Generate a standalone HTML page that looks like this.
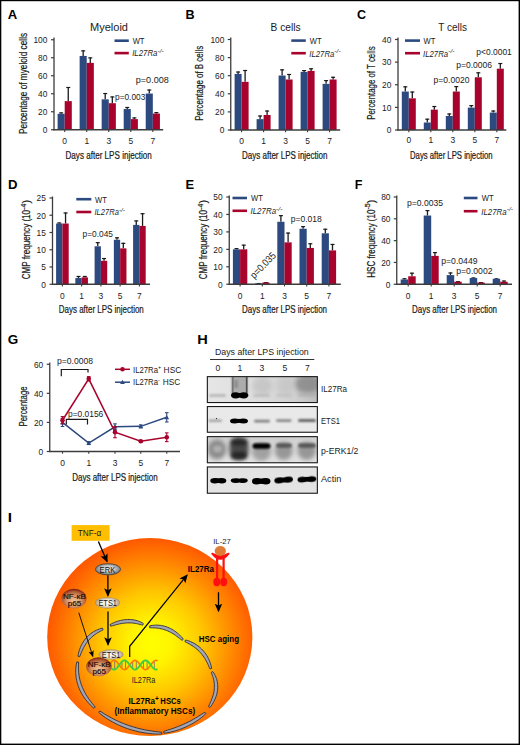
<!DOCTYPE html><html><head><meta charset="utf-8"><title>Figure</title><style>html,body{margin:0;padding:0;background:#fff;}svg{display:block;font-family:"Liberation Sans", sans-serif;}</style></head><body>
<svg width="520" height="745" viewBox="0 0 520 745">
<rect x="0" y="0" width="520" height="745" fill="#fff"/>
<text x="7.89" y="18.50" font-size="12.8" font-weight="bold" textLength="9.45" lengthAdjust="spacingAndGlyphs" fill="#000">A</text>
<text x="90.00" y="30.70" font-size="10.5" textLength="38.00" lengthAdjust="spacingAndGlyphs" fill="#1a1a1a">Myeloid</text>
<line x1="54.00" y1="37.50" x2="54.00" y2="130.35" stroke="#3c3c3c" stroke-width="1.3"/>
<line x1="51.00" y1="129.75" x2="54.00" y2="129.75" stroke="#3c3c3c" stroke-width="1.2"/>
<text x="47.40" y="133.00" font-size="9.2" text-anchor="end" textLength="4.65" lengthAdjust="spacingAndGlyphs" fill="#1a1a1a">0</text>
<line x1="51.00" y1="111.75" x2="54.00" y2="111.75" stroke="#3c3c3c" stroke-width="1.2"/>
<text x="47.40" y="115.00" font-size="9.2" text-anchor="end" textLength="9.30" lengthAdjust="spacingAndGlyphs" fill="#1a1a1a">20</text>
<line x1="51.00" y1="93.75" x2="54.00" y2="93.75" stroke="#3c3c3c" stroke-width="1.2"/>
<text x="47.40" y="97.00" font-size="9.2" text-anchor="end" textLength="9.30" lengthAdjust="spacingAndGlyphs" fill="#1a1a1a">40</text>
<line x1="51.00" y1="75.75" x2="54.00" y2="75.75" stroke="#3c3c3c" stroke-width="1.2"/>
<text x="47.40" y="79.00" font-size="9.2" text-anchor="end" textLength="9.30" lengthAdjust="spacingAndGlyphs" fill="#1a1a1a">60</text>
<line x1="51.00" y1="57.75" x2="54.00" y2="57.75" stroke="#3c3c3c" stroke-width="1.2"/>
<text x="47.40" y="61.00" font-size="9.2" text-anchor="end" textLength="9.30" lengthAdjust="spacingAndGlyphs" fill="#1a1a1a">80</text>
<line x1="51.00" y1="39.75" x2="54.00" y2="39.75" stroke="#3c3c3c" stroke-width="1.2"/>
<text x="47.40" y="43.00" font-size="9.2" text-anchor="end" textLength="13.95" lengthAdjust="spacingAndGlyphs" fill="#1a1a1a">100</text>
<line x1="61.15" y1="112.38" x2="61.15" y2="113.82" stroke="#1a1a1a" stroke-width="1.3"/>
<line x1="59.15" y1="112.88" x2="63.15" y2="112.88" stroke="#1a1a1a" stroke-width="1.2"/>
<rect x="57.60" y="113.82" width="7.10" height="15.93" fill="#2d4a80"/>
<line x1="83.18" y1="50.37" x2="83.18" y2="55.95" stroke="#1a1a1a" stroke-width="1.3"/>
<line x1="81.18" y1="50.87" x2="85.18" y2="50.87" stroke="#1a1a1a" stroke-width="1.2"/>
<rect x="79.63" y="55.95" width="7.10" height="73.80" fill="#2d4a80"/>
<line x1="105.21" y1="93.03" x2="105.21" y2="99.33" stroke="#1a1a1a" stroke-width="1.3"/>
<line x1="103.21" y1="93.53" x2="107.21" y2="93.53" stroke="#1a1a1a" stroke-width="1.2"/>
<rect x="101.66" y="99.33" width="7.10" height="30.42" fill="#2d4a80"/>
<line x1="127.24" y1="106.98" x2="127.24" y2="109.05" stroke="#1a1a1a" stroke-width="1.3"/>
<line x1="125.24" y1="107.48" x2="129.24" y2="107.48" stroke="#1a1a1a" stroke-width="1.2"/>
<rect x="123.69" y="109.05" width="7.10" height="20.70" fill="#2d4a80"/>
<line x1="149.27" y1="89.52" x2="149.27" y2="93.57" stroke="#1a1a1a" stroke-width="1.3"/>
<line x1="147.27" y1="90.02" x2="151.27" y2="90.02" stroke="#1a1a1a" stroke-width="1.2"/>
<rect x="145.72" y="93.57" width="7.10" height="36.18" fill="#2d4a80"/>
<line x1="68.25" y1="87.00" x2="68.25" y2="101.13" stroke="#1a1a1a" stroke-width="1.3"/>
<line x1="66.25" y1="87.50" x2="70.25" y2="87.50" stroke="#1a1a1a" stroke-width="1.2"/>
<rect x="64.70" y="101.13" width="7.10" height="28.62" fill="#a8032c"/>
<line x1="90.28" y1="57.39" x2="90.28" y2="62.88" stroke="#1a1a1a" stroke-width="1.3"/>
<line x1="88.28" y1="57.89" x2="92.28" y2="57.89" stroke="#1a1a1a" stroke-width="1.2"/>
<rect x="86.73" y="62.88" width="7.10" height="66.87" fill="#a8032c"/>
<line x1="112.31" y1="96.45" x2="112.31" y2="103.20" stroke="#1a1a1a" stroke-width="1.3"/>
<line x1="110.31" y1="96.95" x2="114.31" y2="96.95" stroke="#1a1a1a" stroke-width="1.2"/>
<rect x="108.76" y="103.20" width="7.10" height="26.55" fill="#a8032c"/>
<line x1="134.34" y1="117.42" x2="134.34" y2="119.13" stroke="#1a1a1a" stroke-width="1.3"/>
<line x1="132.34" y1="117.92" x2="136.34" y2="117.92" stroke="#1a1a1a" stroke-width="1.2"/>
<rect x="130.79" y="119.13" width="7.10" height="10.62" fill="#a8032c"/>
<line x1="156.37" y1="112.11" x2="156.37" y2="113.55" stroke="#1a1a1a" stroke-width="1.3"/>
<line x1="154.37" y1="112.61" x2="158.37" y2="112.61" stroke="#1a1a1a" stroke-width="1.2"/>
<rect x="152.82" y="113.55" width="7.10" height="16.20" fill="#a8032c"/>
<line x1="53.40" y1="129.75" x2="163.20" y2="129.75" stroke="#3c3c3c" stroke-width="1.3"/>
<line x1="64.70" y1="129.75" x2="64.70" y2="131.95" stroke="#3c3c3c" stroke-width="1.1"/>
<text x="64.70" y="144.05" font-size="9.2" text-anchor="middle" textLength="4.70" lengthAdjust="spacingAndGlyphs" fill="#1a1a1a">0</text>
<line x1="86.73" y1="129.75" x2="86.73" y2="131.95" stroke="#3c3c3c" stroke-width="1.1"/>
<text x="86.73" y="144.05" font-size="9.2" text-anchor="middle" textLength="4.70" lengthAdjust="spacingAndGlyphs" fill="#1a1a1a">1</text>
<line x1="108.76" y1="129.75" x2="108.76" y2="131.95" stroke="#3c3c3c" stroke-width="1.1"/>
<text x="108.76" y="144.05" font-size="9.2" text-anchor="middle" textLength="4.70" lengthAdjust="spacingAndGlyphs" fill="#1a1a1a">3</text>
<line x1="130.79" y1="129.75" x2="130.79" y2="131.95" stroke="#3c3c3c" stroke-width="1.1"/>
<text x="130.79" y="144.05" font-size="9.2" text-anchor="middle" textLength="4.70" lengthAdjust="spacingAndGlyphs" fill="#1a1a1a">5</text>
<line x1="152.82" y1="129.75" x2="152.82" y2="131.95" stroke="#3c3c3c" stroke-width="1.1"/>
<text x="152.82" y="144.05" font-size="9.2" text-anchor="middle" textLength="4.70" lengthAdjust="spacingAndGlyphs" fill="#1a1a1a">7</text>
<text x="65.50" y="158.70" font-size="10.6" textLength="86.30" lengthAdjust="spacingAndGlyphs" fill="#1a1a1a" stroke="#1a1a1a" stroke-width="0.22">Days after LPS injection</text>
<text transform="translate(26.70,133.90) rotate(-90)" font-size="11.2" textLength="101.00" lengthAdjust="spacingAndGlyphs" fill="#1a1a1a" stroke="#1a1a1a" stroke-width="0.22">Percentage of myeloid cells</text>
<line x1="114.50" y1="40.70" x2="128.80" y2="40.70" stroke="#2d4a80" stroke-width="2.6"/>
<line x1="114.50" y1="53.10" x2="128.80" y2="53.10" stroke="#a8032c" stroke-width="2.6"/>
<text x="132.70" y="44.00" font-size="9.0" textLength="11.80" lengthAdjust="spacingAndGlyphs" fill="#1a1a1a">WT</text>
<text x="132.20" y="56.40" font-size="9.0" font-style="italic" fill="#1a1a1a"><tspan textLength="25.28" lengthAdjust="spacingAndGlyphs">IL27Ra</tspan><tspan font-size="5.6" dy="-3.6" textLength="6.32" lengthAdjust="spacingAndGlyphs">-/-</tspan></text>
<text x="115.00" y="100.30" font-size="9.6" textLength="30.30" lengthAdjust="spacingAndGlyphs" fill="#1a1a1a">p=0.003</text>
<text x="135.80" y="83.10" font-size="9.6" textLength="33.00" lengthAdjust="spacingAndGlyphs" fill="#1a1a1a">p=0.008</text>
<text x="185.57" y="18.60" font-size="12.8" font-weight="bold" textLength="9.10" lengthAdjust="spacingAndGlyphs" fill="#000">B</text>
<text x="270.60" y="30.70" font-size="10.5" textLength="30.00" lengthAdjust="spacingAndGlyphs" fill="#1a1a1a">B cells</text>
<line x1="230.75" y1="37.50" x2="230.75" y2="130.60" stroke="#3c3c3c" stroke-width="1.3"/>
<line x1="227.75" y1="130.00" x2="230.75" y2="130.00" stroke="#3c3c3c" stroke-width="1.2"/>
<text x="224.40" y="133.25" font-size="9.2" text-anchor="end" textLength="4.65" lengthAdjust="spacingAndGlyphs" fill="#1a1a1a">0</text>
<line x1="227.75" y1="111.90" x2="230.75" y2="111.90" stroke="#3c3c3c" stroke-width="1.2"/>
<text x="224.40" y="115.15" font-size="9.2" text-anchor="end" textLength="9.30" lengthAdjust="spacingAndGlyphs" fill="#1a1a1a">20</text>
<line x1="227.75" y1="93.80" x2="230.75" y2="93.80" stroke="#3c3c3c" stroke-width="1.2"/>
<text x="224.40" y="97.05" font-size="9.2" text-anchor="end" textLength="9.30" lengthAdjust="spacingAndGlyphs" fill="#1a1a1a">40</text>
<line x1="227.75" y1="75.70" x2="230.75" y2="75.70" stroke="#3c3c3c" stroke-width="1.2"/>
<text x="224.40" y="78.95" font-size="9.2" text-anchor="end" textLength="9.30" lengthAdjust="spacingAndGlyphs" fill="#1a1a1a">60</text>
<line x1="227.75" y1="57.60" x2="230.75" y2="57.60" stroke="#3c3c3c" stroke-width="1.2"/>
<text x="224.40" y="60.85" font-size="9.2" text-anchor="end" textLength="9.30" lengthAdjust="spacingAndGlyphs" fill="#1a1a1a">80</text>
<line x1="227.75" y1="39.50" x2="230.75" y2="39.50" stroke="#3c3c3c" stroke-width="1.2"/>
<text x="224.40" y="42.75" font-size="9.2" text-anchor="end" textLength="13.95" lengthAdjust="spacingAndGlyphs" fill="#1a1a1a">100</text>
<line x1="238.10" y1="71.54" x2="238.10" y2="73.89" stroke="#1a1a1a" stroke-width="1.3"/>
<line x1="236.10" y1="72.04" x2="240.10" y2="72.04" stroke="#1a1a1a" stroke-width="1.2"/>
<rect x="234.60" y="73.89" width="7.00" height="56.11" fill="#2d4a80"/>
<line x1="260.10" y1="115.52" x2="260.10" y2="119.14" stroke="#1a1a1a" stroke-width="1.3"/>
<line x1="258.10" y1="116.02" x2="262.10" y2="116.02" stroke="#1a1a1a" stroke-width="1.2"/>
<rect x="256.60" y="119.14" width="7.00" height="10.86" fill="#2d4a80"/>
<line x1="282.10" y1="69.36" x2="282.10" y2="75.52" stroke="#1a1a1a" stroke-width="1.3"/>
<line x1="280.10" y1="69.86" x2="284.10" y2="69.86" stroke="#1a1a1a" stroke-width="1.2"/>
<rect x="278.60" y="75.52" width="7.00" height="54.48" fill="#2d4a80"/>
<line x1="304.10" y1="70.09" x2="304.10" y2="71.90" stroke="#1a1a1a" stroke-width="1.3"/>
<line x1="302.10" y1="70.59" x2="306.10" y2="70.59" stroke="#1a1a1a" stroke-width="1.2"/>
<rect x="300.60" y="71.90" width="7.00" height="58.10" fill="#2d4a80"/>
<line x1="326.10" y1="80.13" x2="326.10" y2="83.84" stroke="#1a1a1a" stroke-width="1.3"/>
<line x1="324.10" y1="80.63" x2="328.10" y2="80.63" stroke="#1a1a1a" stroke-width="1.2"/>
<rect x="322.60" y="83.84" width="7.00" height="46.16" fill="#2d4a80"/>
<line x1="245.10" y1="70.00" x2="245.10" y2="81.85" stroke="#1a1a1a" stroke-width="1.3"/>
<line x1="243.10" y1="70.50" x2="247.10" y2="70.50" stroke="#1a1a1a" stroke-width="1.2"/>
<rect x="241.60" y="81.85" width="7.00" height="48.15" fill="#a8032c"/>
<line x1="267.10" y1="110.54" x2="267.10" y2="114.98" stroke="#1a1a1a" stroke-width="1.3"/>
<line x1="265.10" y1="111.04" x2="269.10" y2="111.04" stroke="#1a1a1a" stroke-width="1.2"/>
<rect x="263.60" y="114.98" width="7.00" height="15.02" fill="#a8032c"/>
<line x1="289.10" y1="73.98" x2="289.10" y2="79.50" stroke="#1a1a1a" stroke-width="1.3"/>
<line x1="287.10" y1="74.48" x2="291.10" y2="74.48" stroke="#1a1a1a" stroke-width="1.2"/>
<rect x="285.60" y="79.50" width="7.00" height="50.50" fill="#a8032c"/>
<line x1="311.10" y1="68.28" x2="311.10" y2="70.90" stroke="#1a1a1a" stroke-width="1.3"/>
<line x1="309.10" y1="68.78" x2="313.10" y2="68.78" stroke="#1a1a1a" stroke-width="1.2"/>
<rect x="307.60" y="70.90" width="7.00" height="59.10" fill="#a8032c"/>
<line x1="333.10" y1="76.79" x2="333.10" y2="79.50" stroke="#1a1a1a" stroke-width="1.3"/>
<line x1="331.10" y1="77.29" x2="335.10" y2="77.29" stroke="#1a1a1a" stroke-width="1.2"/>
<rect x="329.60" y="79.50" width="7.00" height="50.50" fill="#a8032c"/>
<line x1="230.15" y1="130.00" x2="340.20" y2="130.00" stroke="#3c3c3c" stroke-width="1.3"/>
<line x1="241.60" y1="130.00" x2="241.60" y2="132.20" stroke="#3c3c3c" stroke-width="1.1"/>
<text x="241.60" y="144.05" font-size="9.2" text-anchor="middle" textLength="4.70" lengthAdjust="spacingAndGlyphs" fill="#1a1a1a">0</text>
<line x1="263.60" y1="130.00" x2="263.60" y2="132.20" stroke="#3c3c3c" stroke-width="1.1"/>
<text x="263.60" y="144.05" font-size="9.2" text-anchor="middle" textLength="4.70" lengthAdjust="spacingAndGlyphs" fill="#1a1a1a">1</text>
<line x1="285.60" y1="130.00" x2="285.60" y2="132.20" stroke="#3c3c3c" stroke-width="1.1"/>
<text x="285.60" y="144.05" font-size="9.2" text-anchor="middle" textLength="4.70" lengthAdjust="spacingAndGlyphs" fill="#1a1a1a">3</text>
<line x1="307.60" y1="130.00" x2="307.60" y2="132.20" stroke="#3c3c3c" stroke-width="1.1"/>
<text x="307.60" y="144.05" font-size="9.2" text-anchor="middle" textLength="4.70" lengthAdjust="spacingAndGlyphs" fill="#1a1a1a">5</text>
<line x1="329.60" y1="130.00" x2="329.60" y2="132.20" stroke="#3c3c3c" stroke-width="1.1"/>
<text x="329.60" y="144.05" font-size="9.2" text-anchor="middle" textLength="4.70" lengthAdjust="spacingAndGlyphs" fill="#1a1a1a">7</text>
<text x="242.00" y="158.70" font-size="10.6" textLength="85.50" lengthAdjust="spacingAndGlyphs" fill="#1a1a1a" stroke="#1a1a1a" stroke-width="0.22">Days after LPS injection</text>
<text transform="translate(203.10,120.80) rotate(-90)" font-size="11.2" textLength="75.00" lengthAdjust="spacingAndGlyphs" fill="#1a1a1a" stroke="#1a1a1a" stroke-width="0.22">Percentage of B cells</text>
<line x1="291.30" y1="40.60" x2="305.80" y2="40.60" stroke="#2d4a80" stroke-width="2.6"/>
<line x1="291.30" y1="53.20" x2="305.80" y2="53.20" stroke="#a8032c" stroke-width="2.6"/>
<text x="309.80" y="43.90" font-size="9.0" textLength="11.80" lengthAdjust="spacingAndGlyphs" fill="#1a1a1a">WT</text>
<text x="309.30" y="56.50" font-size="9.0" font-style="italic" fill="#1a1a1a"><tspan textLength="25.04" lengthAdjust="spacingAndGlyphs">IL27Ra</tspan><tspan font-size="5.6" dy="-3.6" textLength="6.26" lengthAdjust="spacingAndGlyphs">-/-</tspan></text>
<text x="357.09" y="18.60" font-size="12.8" font-weight="bold" textLength="9.05" lengthAdjust="spacingAndGlyphs" fill="#000">C</text>
<text x="438.30" y="30.70" font-size="10.5" textLength="28.70" lengthAdjust="spacingAndGlyphs" fill="#1a1a1a">T cells</text>
<line x1="398.00" y1="37.50" x2="398.00" y2="130.60" stroke="#3c3c3c" stroke-width="1.3"/>
<line x1="395.00" y1="130.00" x2="398.00" y2="130.00" stroke="#3c3c3c" stroke-width="1.2"/>
<text x="391.30" y="133.25" font-size="9.2" text-anchor="end" textLength="4.65" lengthAdjust="spacingAndGlyphs" fill="#1a1a1a">0</text>
<line x1="395.00" y1="107.38" x2="398.00" y2="107.38" stroke="#3c3c3c" stroke-width="1.2"/>
<text x="391.30" y="110.62" font-size="9.2" text-anchor="end" textLength="9.30" lengthAdjust="spacingAndGlyphs" fill="#1a1a1a">10</text>
<line x1="395.00" y1="84.75" x2="398.00" y2="84.75" stroke="#3c3c3c" stroke-width="1.2"/>
<text x="391.30" y="88.00" font-size="9.2" text-anchor="end" textLength="9.30" lengthAdjust="spacingAndGlyphs" fill="#1a1a1a">20</text>
<line x1="395.00" y1="62.12" x2="398.00" y2="62.12" stroke="#3c3c3c" stroke-width="1.2"/>
<text x="391.30" y="65.38" font-size="9.2" text-anchor="end" textLength="9.30" lengthAdjust="spacingAndGlyphs" fill="#1a1a1a">30</text>
<line x1="395.00" y1="39.50" x2="398.00" y2="39.50" stroke="#3c3c3c" stroke-width="1.2"/>
<text x="391.30" y="42.75" font-size="9.2" text-anchor="end" textLength="9.30" lengthAdjust="spacingAndGlyphs" fill="#1a1a1a">40</text>
<line x1="405.30" y1="86.33" x2="405.30" y2="91.54" stroke="#1a1a1a" stroke-width="1.3"/>
<line x1="403.30" y1="86.83" x2="407.30" y2="86.83" stroke="#1a1a1a" stroke-width="1.2"/>
<rect x="401.80" y="91.54" width="7.00" height="38.46" fill="#2d4a80"/>
<line x1="427.30" y1="118.69" x2="427.30" y2="122.53" stroke="#1a1a1a" stroke-width="1.3"/>
<line x1="425.30" y1="119.19" x2="429.30" y2="119.19" stroke="#1a1a1a" stroke-width="1.2"/>
<rect x="423.80" y="122.53" width="7.00" height="7.47" fill="#2d4a80"/>
<line x1="449.30" y1="113.48" x2="449.30" y2="115.97" stroke="#1a1a1a" stroke-width="1.3"/>
<line x1="447.30" y1="113.98" x2="451.30" y2="113.98" stroke="#1a1a1a" stroke-width="1.2"/>
<rect x="445.80" y="115.97" width="7.00" height="14.03" fill="#2d4a80"/>
<line x1="471.30" y1="105.11" x2="471.30" y2="107.60" stroke="#1a1a1a" stroke-width="1.3"/>
<line x1="469.30" y1="105.61" x2="473.30" y2="105.61" stroke="#1a1a1a" stroke-width="1.2"/>
<rect x="467.80" y="107.60" width="7.00" height="22.40" fill="#2d4a80"/>
<line x1="493.30" y1="110.54" x2="493.30" y2="112.58" stroke="#1a1a1a" stroke-width="1.3"/>
<line x1="491.30" y1="111.04" x2="495.30" y2="111.04" stroke="#1a1a1a" stroke-width="1.2"/>
<rect x="489.80" y="112.58" width="7.00" height="17.42" fill="#2d4a80"/>
<line x1="412.30" y1="91.54" x2="412.30" y2="98.32" stroke="#1a1a1a" stroke-width="1.3"/>
<line x1="410.30" y1="92.04" x2="414.30" y2="92.04" stroke="#1a1a1a" stroke-width="1.2"/>
<rect x="408.80" y="98.32" width="7.00" height="31.68" fill="#a8032c"/>
<line x1="434.30" y1="106.02" x2="434.30" y2="109.64" stroke="#1a1a1a" stroke-width="1.3"/>
<line x1="432.30" y1="106.52" x2="436.30" y2="106.52" stroke="#1a1a1a" stroke-width="1.2"/>
<rect x="430.80" y="109.64" width="7.00" height="20.36" fill="#a8032c"/>
<line x1="456.30" y1="86.11" x2="456.30" y2="91.54" stroke="#1a1a1a" stroke-width="1.3"/>
<line x1="454.30" y1="86.61" x2="458.30" y2="86.61" stroke="#1a1a1a" stroke-width="1.2"/>
<rect x="452.80" y="91.54" width="7.00" height="38.46" fill="#a8032c"/>
<line x1="478.30" y1="72.31" x2="478.30" y2="77.28" stroke="#1a1a1a" stroke-width="1.3"/>
<line x1="476.30" y1="72.81" x2="480.30" y2="72.81" stroke="#1a1a1a" stroke-width="1.2"/>
<rect x="474.80" y="77.28" width="7.00" height="52.72" fill="#a8032c"/>
<line x1="500.30" y1="63.03" x2="500.30" y2="68.69" stroke="#1a1a1a" stroke-width="1.3"/>
<line x1="498.30" y1="63.53" x2="502.30" y2="63.53" stroke="#1a1a1a" stroke-width="1.2"/>
<rect x="496.80" y="68.69" width="7.00" height="61.31" fill="#a8032c"/>
<line x1="397.40" y1="130.00" x2="506.30" y2="130.00" stroke="#3c3c3c" stroke-width="1.3"/>
<line x1="408.80" y1="130.00" x2="408.80" y2="132.20" stroke="#3c3c3c" stroke-width="1.1"/>
<text x="408.80" y="143.45" font-size="9.2" text-anchor="middle" textLength="4.70" lengthAdjust="spacingAndGlyphs" fill="#1a1a1a">0</text>
<line x1="430.80" y1="130.00" x2="430.80" y2="132.20" stroke="#3c3c3c" stroke-width="1.1"/>
<text x="430.80" y="143.45" font-size="9.2" text-anchor="middle" textLength="4.70" lengthAdjust="spacingAndGlyphs" fill="#1a1a1a">1</text>
<line x1="452.80" y1="130.00" x2="452.80" y2="132.20" stroke="#3c3c3c" stroke-width="1.1"/>
<text x="452.80" y="143.45" font-size="9.2" text-anchor="middle" textLength="4.70" lengthAdjust="spacingAndGlyphs" fill="#1a1a1a">3</text>
<line x1="474.80" y1="130.00" x2="474.80" y2="132.20" stroke="#3c3c3c" stroke-width="1.1"/>
<text x="474.80" y="143.45" font-size="9.2" text-anchor="middle" textLength="4.70" lengthAdjust="spacingAndGlyphs" fill="#1a1a1a">5</text>
<line x1="496.80" y1="130.00" x2="496.80" y2="132.20" stroke="#3c3c3c" stroke-width="1.1"/>
<text x="496.80" y="143.45" font-size="9.2" text-anchor="middle" textLength="4.70" lengthAdjust="spacingAndGlyphs" fill="#1a1a1a">7</text>
<text x="410.00" y="159.20" font-size="10.6" textLength="82.50" lengthAdjust="spacingAndGlyphs" fill="#1a1a1a" stroke="#1a1a1a" stroke-width="0.22">Days after LPS injection</text>
<text transform="translate(375.00,119.80) rotate(-90)" font-size="11.2" textLength="73.40" lengthAdjust="spacingAndGlyphs" fill="#1a1a1a" stroke="#1a1a1a" stroke-width="0.22">Percentage of T cells</text>
<line x1="405.00" y1="40.60" x2="420.00" y2="40.60" stroke="#2d4a80" stroke-width="2.6"/>
<line x1="405.00" y1="53.20" x2="420.00" y2="53.20" stroke="#a8032c" stroke-width="2.6"/>
<text x="423.50" y="43.90" font-size="9.0" textLength="11.80" lengthAdjust="spacingAndGlyphs" fill="#1a1a1a">WT</text>
<text x="423.00" y="56.50" font-size="9.0" font-style="italic" fill="#1a1a1a"><tspan textLength="25.20" lengthAdjust="spacingAndGlyphs">IL27Ra</tspan><tspan font-size="5.6" dy="-3.6" textLength="6.30" lengthAdjust="spacingAndGlyphs">-/-</tspan></text>
<text x="433.60" y="83.30" font-size="9.6" textLength="35.80" lengthAdjust="spacingAndGlyphs" fill="#1a1a1a">p=0.0020</text>
<text x="456.20" y="67.60" font-size="9.6" textLength="35.80" lengthAdjust="spacingAndGlyphs" fill="#1a1a1a">p=0.0006</text>
<text x="476.30" y="55.30" font-size="9.6" textLength="35.50" lengthAdjust="spacingAndGlyphs" fill="#1a1a1a">p&lt;0.0001</text>
<text x="8.03" y="188.90" font-size="12.8" font-weight="bold" textLength="9.51" lengthAdjust="spacingAndGlyphs" fill="#000">D</text>
<line x1="52.50" y1="196.50" x2="52.50" y2="284.85" stroke="#3c3c3c" stroke-width="1.3"/>
<line x1="49.50" y1="284.25" x2="52.50" y2="284.25" stroke="#3c3c3c" stroke-width="1.2"/>
<text x="45.80" y="287.50" font-size="9.2" text-anchor="end" textLength="4.65" lengthAdjust="spacingAndGlyphs" fill="#1a1a1a">0</text>
<line x1="49.50" y1="267.00" x2="52.50" y2="267.00" stroke="#3c3c3c" stroke-width="1.2"/>
<text x="45.80" y="270.25" font-size="9.2" text-anchor="end" textLength="4.65" lengthAdjust="spacingAndGlyphs" fill="#1a1a1a">5</text>
<line x1="49.50" y1="249.75" x2="52.50" y2="249.75" stroke="#3c3c3c" stroke-width="1.2"/>
<text x="45.80" y="253.00" font-size="9.2" text-anchor="end" textLength="9.30" lengthAdjust="spacingAndGlyphs" fill="#1a1a1a">10</text>
<line x1="49.50" y1="232.50" x2="52.50" y2="232.50" stroke="#3c3c3c" stroke-width="1.2"/>
<text x="45.80" y="235.75" font-size="9.2" text-anchor="end" textLength="9.30" lengthAdjust="spacingAndGlyphs" fill="#1a1a1a">15</text>
<line x1="49.50" y1="215.25" x2="52.50" y2="215.25" stroke="#3c3c3c" stroke-width="1.2"/>
<text x="45.80" y="218.50" font-size="9.2" text-anchor="end" textLength="9.30" lengthAdjust="spacingAndGlyphs" fill="#1a1a1a">20</text>
<line x1="49.50" y1="198.00" x2="52.50" y2="198.00" stroke="#3c3c3c" stroke-width="1.2"/>
<text x="45.80" y="201.25" font-size="9.2" text-anchor="end" textLength="9.30" lengthAdjust="spacingAndGlyphs" fill="#1a1a1a">25</text>
<line x1="59.25" y1="222.50" x2="59.25" y2="223.53" stroke="#1a1a1a" stroke-width="1.3"/>
<line x1="57.25" y1="223.00" x2="61.25" y2="223.00" stroke="#1a1a1a" stroke-width="1.2"/>
<rect x="56.10" y="223.53" width="6.30" height="60.72" fill="#2d4a80"/>
<line x1="78.50" y1="275.97" x2="78.50" y2="278.04" stroke="#1a1a1a" stroke-width="1.3"/>
<line x1="76.50" y1="276.47" x2="80.50" y2="276.47" stroke="#1a1a1a" stroke-width="1.2"/>
<rect x="75.35" y="278.04" width="6.30" height="6.21" fill="#2d4a80"/>
<line x1="97.75" y1="242.16" x2="97.75" y2="246.30" stroke="#1a1a1a" stroke-width="1.3"/>
<line x1="95.75" y1="242.66" x2="99.75" y2="242.66" stroke="#1a1a1a" stroke-width="1.2"/>
<rect x="94.60" y="246.30" width="6.30" height="37.95" fill="#2d4a80"/>
<line x1="117.00" y1="237.33" x2="117.00" y2="239.75" stroke="#1a1a1a" stroke-width="1.3"/>
<line x1="115.00" y1="237.83" x2="119.00" y2="237.83" stroke="#1a1a1a" stroke-width="1.2"/>
<rect x="113.85" y="239.75" width="6.30" height="44.50" fill="#2d4a80"/>
<line x1="136.25" y1="220.43" x2="136.25" y2="224.91" stroke="#1a1a1a" stroke-width="1.3"/>
<line x1="134.25" y1="220.93" x2="138.25" y2="220.93" stroke="#1a1a1a" stroke-width="1.2"/>
<rect x="133.10" y="224.91" width="6.30" height="59.34" fill="#2d4a80"/>
<line x1="65.55" y1="212.49" x2="65.55" y2="223.53" stroke="#1a1a1a" stroke-width="1.3"/>
<line x1="63.55" y1="212.99" x2="67.55" y2="212.99" stroke="#1a1a1a" stroke-width="1.2"/>
<rect x="62.40" y="223.53" width="6.30" height="60.72" fill="#a8032c"/>
<line x1="84.80" y1="275.97" x2="84.80" y2="277.35" stroke="#1a1a1a" stroke-width="1.3"/>
<line x1="82.80" y1="276.47" x2="86.80" y2="276.47" stroke="#1a1a1a" stroke-width="1.2"/>
<rect x="81.65" y="277.35" width="6.30" height="6.90" fill="#a8032c"/>
<line x1="104.05" y1="258.03" x2="104.05" y2="260.79" stroke="#1a1a1a" stroke-width="1.3"/>
<line x1="102.05" y1="258.53" x2="106.05" y2="258.53" stroke="#1a1a1a" stroke-width="1.2"/>
<rect x="100.90" y="260.79" width="6.30" height="23.46" fill="#a8032c"/>
<line x1="123.30" y1="242.85" x2="123.30" y2="248.37" stroke="#1a1a1a" stroke-width="1.3"/>
<line x1="121.30" y1="243.35" x2="125.30" y2="243.35" stroke="#1a1a1a" stroke-width="1.2"/>
<rect x="120.15" y="248.37" width="6.30" height="35.88" fill="#a8032c"/>
<line x1="142.55" y1="213.18" x2="142.55" y2="225.94" stroke="#1a1a1a" stroke-width="1.3"/>
<line x1="140.55" y1="213.68" x2="144.55" y2="213.68" stroke="#1a1a1a" stroke-width="1.2"/>
<rect x="139.40" y="225.94" width="6.30" height="58.31" fill="#a8032c"/>
<line x1="51.90" y1="284.25" x2="150.00" y2="284.25" stroke="#3c3c3c" stroke-width="1.3"/>
<line x1="62.40" y1="284.25" x2="62.40" y2="286.45" stroke="#3c3c3c" stroke-width="1.1"/>
<text x="62.40" y="299.45" font-size="9.2" text-anchor="middle" textLength="4.70" lengthAdjust="spacingAndGlyphs" fill="#1a1a1a">0</text>
<line x1="81.65" y1="284.25" x2="81.65" y2="286.45" stroke="#3c3c3c" stroke-width="1.1"/>
<text x="81.65" y="299.45" font-size="9.2" text-anchor="middle" textLength="4.70" lengthAdjust="spacingAndGlyphs" fill="#1a1a1a">1</text>
<line x1="100.90" y1="284.25" x2="100.90" y2="286.45" stroke="#3c3c3c" stroke-width="1.1"/>
<text x="100.90" y="299.45" font-size="9.2" text-anchor="middle" textLength="4.70" lengthAdjust="spacingAndGlyphs" fill="#1a1a1a">3</text>
<line x1="120.15" y1="284.25" x2="120.15" y2="286.45" stroke="#3c3c3c" stroke-width="1.1"/>
<text x="120.15" y="299.45" font-size="9.2" text-anchor="middle" textLength="4.70" lengthAdjust="spacingAndGlyphs" fill="#1a1a1a">5</text>
<line x1="139.40" y1="284.25" x2="139.40" y2="286.45" stroke="#3c3c3c" stroke-width="1.1"/>
<text x="139.40" y="299.45" font-size="9.2" text-anchor="middle" textLength="4.70" lengthAdjust="spacingAndGlyphs" fill="#1a1a1a">7</text>
<text x="58.80" y="313.40" font-size="10.6" textLength="85.00" lengthAdjust="spacingAndGlyphs" fill="#1a1a1a" stroke="#1a1a1a" stroke-width="0.22">Days after LPS injection</text>
<text transform="translate(30.30,279.30) rotate(-90)" font-size="11.2" fill="#1a1a1a" stroke="#1a1a1a" stroke-width="0.22"><tspan textLength="69.39" lengthAdjust="spacingAndGlyphs">CMP frequency (10</tspan><tspan font-size="6.7" dy="-4.48" textLength="6.34" lengthAdjust="spacingAndGlyphs">-4</tspan><tspan dy="4.48" textLength="3.57" lengthAdjust="spacingAndGlyphs">)</tspan></text>
<line x1="76.30" y1="199.20" x2="91.30" y2="199.20" stroke="#2d4a80" stroke-width="2.6"/>
<line x1="76.30" y1="212.00" x2="91.30" y2="212.00" stroke="#a8032c" stroke-width="2.6"/>
<text x="95.00" y="202.50" font-size="9.0" textLength="11.80" lengthAdjust="spacingAndGlyphs" fill="#1a1a1a">WT</text>
<text x="94.50" y="215.30" font-size="9.0" font-style="italic" fill="#1a1a1a"><tspan textLength="24.40" lengthAdjust="spacingAndGlyphs">IL27Ra</tspan><tspan font-size="5.6" dy="-3.6" textLength="6.10" lengthAdjust="spacingAndGlyphs">-/-</tspan></text>
<text x="82.50" y="236.90" font-size="9.6" textLength="30.50" lengthAdjust="spacingAndGlyphs" fill="#1a1a1a">p=0.045</text>
<text x="185.54" y="189.00" font-size="12.8" font-weight="bold" textLength="8.66" lengthAdjust="spacingAndGlyphs" fill="#000">E</text>
<line x1="229.25" y1="195.50" x2="229.25" y2="284.85" stroke="#3c3c3c" stroke-width="1.3"/>
<line x1="226.25" y1="284.25" x2="229.25" y2="284.25" stroke="#3c3c3c" stroke-width="1.2"/>
<text x="222.60" y="287.50" font-size="9.2" text-anchor="end" textLength="4.65" lengthAdjust="spacingAndGlyphs" fill="#1a1a1a">0</text>
<line x1="226.25" y1="266.80" x2="229.25" y2="266.80" stroke="#3c3c3c" stroke-width="1.2"/>
<text x="222.60" y="270.05" font-size="9.2" text-anchor="end" textLength="9.30" lengthAdjust="spacingAndGlyphs" fill="#1a1a1a">10</text>
<line x1="226.25" y1="249.35" x2="229.25" y2="249.35" stroke="#3c3c3c" stroke-width="1.2"/>
<text x="222.60" y="252.60" font-size="9.2" text-anchor="end" textLength="9.30" lengthAdjust="spacingAndGlyphs" fill="#1a1a1a">20</text>
<line x1="226.25" y1="231.90" x2="229.25" y2="231.90" stroke="#3c3c3c" stroke-width="1.2"/>
<text x="222.60" y="235.15" font-size="9.2" text-anchor="end" textLength="9.30" lengthAdjust="spacingAndGlyphs" fill="#1a1a1a">30</text>
<line x1="226.25" y1="214.45" x2="229.25" y2="214.45" stroke="#3c3c3c" stroke-width="1.2"/>
<text x="222.60" y="217.70" font-size="9.2" text-anchor="end" textLength="9.30" lengthAdjust="spacingAndGlyphs" fill="#1a1a1a">40</text>
<line x1="226.25" y1="197.00" x2="229.25" y2="197.00" stroke="#3c3c3c" stroke-width="1.2"/>
<text x="222.60" y="200.25" font-size="9.2" text-anchor="end" textLength="9.30" lengthAdjust="spacingAndGlyphs" fill="#1a1a1a">50</text>
<line x1="236.50" y1="248.13" x2="236.50" y2="249.35" stroke="#1a1a1a" stroke-width="1.3"/>
<line x1="234.50" y1="248.63" x2="238.50" y2="248.63" stroke="#1a1a1a" stroke-width="1.2"/>
<rect x="232.90" y="249.35" width="7.20" height="34.90" fill="#2d4a80"/>
<line x1="258.70" y1="283.03" x2="258.70" y2="283.38" stroke="#1a1a1a" stroke-width="1.3"/>
<line x1="256.70" y1="283.53" x2="260.70" y2="283.53" stroke="#1a1a1a" stroke-width="1.2"/>
<rect x="255.10" y="283.38" width="7.20" height="0.87" fill="#2d4a80"/>
<line x1="280.90" y1="215.15" x2="280.90" y2="221.78" stroke="#1a1a1a" stroke-width="1.3"/>
<line x1="278.90" y1="215.65" x2="282.90" y2="215.65" stroke="#1a1a1a" stroke-width="1.2"/>
<rect x="277.30" y="221.78" width="7.20" height="62.47" fill="#2d4a80"/>
<line x1="303.10" y1="226.14" x2="303.10" y2="228.76" stroke="#1a1a1a" stroke-width="1.3"/>
<line x1="301.10" y1="226.64" x2="305.10" y2="226.64" stroke="#1a1a1a" stroke-width="1.2"/>
<rect x="299.50" y="228.76" width="7.20" height="55.49" fill="#2d4a80"/>
<line x1="325.30" y1="228.76" x2="325.30" y2="233.30" stroke="#1a1a1a" stroke-width="1.3"/>
<line x1="323.30" y1="229.26" x2="327.30" y2="229.26" stroke="#1a1a1a" stroke-width="1.2"/>
<rect x="321.70" y="233.30" width="7.20" height="50.95" fill="#2d4a80"/>
<line x1="243.70" y1="244.64" x2="243.70" y2="249.35" stroke="#1a1a1a" stroke-width="1.3"/>
<line x1="241.70" y1="245.14" x2="245.70" y2="245.14" stroke="#1a1a1a" stroke-width="1.2"/>
<rect x="240.10" y="249.35" width="7.20" height="34.90" fill="#a8032c"/>
<line x1="265.90" y1="282.16" x2="265.90" y2="282.50" stroke="#1a1a1a" stroke-width="1.3"/>
<line x1="263.90" y1="282.66" x2="267.90" y2="282.66" stroke="#1a1a1a" stroke-width="1.2"/>
<rect x="262.30" y="282.50" width="7.20" height="1.75" fill="#a8032c"/>
<line x1="288.10" y1="232.60" x2="288.10" y2="242.37" stroke="#1a1a1a" stroke-width="1.3"/>
<line x1="286.10" y1="233.10" x2="290.10" y2="233.10" stroke="#1a1a1a" stroke-width="1.2"/>
<rect x="284.50" y="242.37" width="7.20" height="41.88" fill="#a8032c"/>
<line x1="310.30" y1="243.24" x2="310.30" y2="247.95" stroke="#1a1a1a" stroke-width="1.3"/>
<line x1="308.30" y1="243.74" x2="312.30" y2="243.74" stroke="#1a1a1a" stroke-width="1.2"/>
<rect x="306.70" y="247.95" width="7.20" height="36.30" fill="#a8032c"/>
<line x1="332.50" y1="243.94" x2="332.50" y2="250.40" stroke="#1a1a1a" stroke-width="1.3"/>
<line x1="330.50" y1="244.44" x2="334.50" y2="244.44" stroke="#1a1a1a" stroke-width="1.2"/>
<rect x="328.90" y="250.40" width="7.20" height="33.85" fill="#a8032c"/>
<line x1="228.65" y1="284.25" x2="340.80" y2="284.25" stroke="#3c3c3c" stroke-width="1.3"/>
<line x1="240.10" y1="284.25" x2="240.10" y2="286.45" stroke="#3c3c3c" stroke-width="1.1"/>
<text x="240.10" y="299.45" font-size="9.2" text-anchor="middle" textLength="4.70" lengthAdjust="spacingAndGlyphs" fill="#1a1a1a">0</text>
<line x1="262.30" y1="284.25" x2="262.30" y2="286.45" stroke="#3c3c3c" stroke-width="1.1"/>
<text x="262.30" y="299.45" font-size="9.2" text-anchor="middle" textLength="4.70" lengthAdjust="spacingAndGlyphs" fill="#1a1a1a">1</text>
<line x1="284.50" y1="284.25" x2="284.50" y2="286.45" stroke="#3c3c3c" stroke-width="1.1"/>
<text x="284.50" y="299.45" font-size="9.2" text-anchor="middle" textLength="4.70" lengthAdjust="spacingAndGlyphs" fill="#1a1a1a">3</text>
<line x1="306.70" y1="284.25" x2="306.70" y2="286.45" stroke="#3c3c3c" stroke-width="1.1"/>
<text x="306.70" y="299.45" font-size="9.2" text-anchor="middle" textLength="4.70" lengthAdjust="spacingAndGlyphs" fill="#1a1a1a">5</text>
<line x1="328.90" y1="284.25" x2="328.90" y2="286.45" stroke="#3c3c3c" stroke-width="1.1"/>
<text x="328.90" y="299.45" font-size="9.2" text-anchor="middle" textLength="4.70" lengthAdjust="spacingAndGlyphs" fill="#1a1a1a">7</text>
<text x="242.00" y="313.40" font-size="10.6" textLength="85.00" lengthAdjust="spacingAndGlyphs" fill="#1a1a1a" stroke="#1a1a1a" stroke-width="0.22">Days after LPS injection</text>
<text transform="translate(207.10,279.30) rotate(-90)" font-size="11.2" fill="#1a1a1a" stroke="#1a1a1a" stroke-width="0.22"><tspan textLength="69.39" lengthAdjust="spacingAndGlyphs">CMP frequency (10</tspan><tspan font-size="6.7" dy="-4.48" textLength="6.34" lengthAdjust="spacingAndGlyphs">-4</tspan><tspan dy="4.48" textLength="3.57" lengthAdjust="spacingAndGlyphs">)</tspan></text>
<line x1="232.50" y1="198.00" x2="247.00" y2="198.00" stroke="#2d4a80" stroke-width="2.6"/>
<line x1="232.50" y1="210.80" x2="247.00" y2="210.80" stroke="#a8032c" stroke-width="2.6"/>
<text x="251.00" y="201.30" font-size="9.0" textLength="11.80" lengthAdjust="spacingAndGlyphs" fill="#1a1a1a">WT</text>
<text x="250.50" y="214.10" font-size="9.0" font-style="italic" fill="#1a1a1a"><tspan textLength="25.60" lengthAdjust="spacingAndGlyphs">IL27Ra</tspan><tspan font-size="5.6" dy="-3.6" textLength="6.40" lengthAdjust="spacingAndGlyphs">-/-</tspan></text>
<text x="290.80" y="222.30" font-size="9.6" textLength="31.00" lengthAdjust="spacingAndGlyphs" fill="#1a1a1a">p=0.018</text>
<text transform="translate(254.3,279.3) rotate(-46)" font-size="10.2" textLength="32.0" lengthAdjust="spacingAndGlyphs" fill="#1a1a1a">p=0.035</text>
<text x="354.77" y="189.00" font-size="12.8" font-weight="bold" textLength="7.68" lengthAdjust="spacingAndGlyphs" fill="#000">F</text>
<line x1="396.75" y1="195.50" x2="396.75" y2="284.85" stroke="#3c3c3c" stroke-width="1.3"/>
<line x1="393.75" y1="284.25" x2="396.75" y2="284.25" stroke="#3c3c3c" stroke-width="1.2"/>
<text x="390.50" y="287.50" font-size="9.2" text-anchor="end" textLength="4.65" lengthAdjust="spacingAndGlyphs" fill="#1a1a1a">0</text>
<line x1="393.75" y1="262.44" x2="396.75" y2="262.44" stroke="#3c3c3c" stroke-width="1.2"/>
<text x="390.50" y="265.69" font-size="9.2" text-anchor="end" textLength="9.30" lengthAdjust="spacingAndGlyphs" fill="#1a1a1a">20</text>
<line x1="393.75" y1="240.63" x2="396.75" y2="240.63" stroke="#3c3c3c" stroke-width="1.2"/>
<text x="390.50" y="243.88" font-size="9.2" text-anchor="end" textLength="9.30" lengthAdjust="spacingAndGlyphs" fill="#1a1a1a">40</text>
<line x1="393.75" y1="218.81" x2="396.75" y2="218.81" stroke="#3c3c3c" stroke-width="1.2"/>
<text x="390.50" y="222.06" font-size="9.2" text-anchor="end" textLength="9.30" lengthAdjust="spacingAndGlyphs" fill="#1a1a1a">60</text>
<line x1="393.75" y1="197.00" x2="396.75" y2="197.00" stroke="#3c3c3c" stroke-width="1.2"/>
<text x="390.50" y="200.25" font-size="9.2" text-anchor="end" textLength="9.30" lengthAdjust="spacingAndGlyphs" fill="#1a1a1a">80</text>
<line x1="404.45" y1="278.25" x2="404.45" y2="279.45" stroke="#1a1a1a" stroke-width="1.3"/>
<line x1="402.45" y1="278.75" x2="406.45" y2="278.75" stroke="#1a1a1a" stroke-width="1.2"/>
<rect x="400.70" y="279.45" width="7.50" height="4.80" fill="#2d4a80"/>
<line x1="427.45" y1="210.09" x2="427.45" y2="215.54" stroke="#1a1a1a" stroke-width="1.3"/>
<line x1="425.45" y1="210.59" x2="429.45" y2="210.59" stroke="#1a1a1a" stroke-width="1.2"/>
<rect x="423.70" y="215.54" width="7.50" height="68.71" fill="#2d4a80"/>
<line x1="450.45" y1="272.47" x2="450.45" y2="275.09" stroke="#1a1a1a" stroke-width="1.3"/>
<line x1="448.45" y1="272.97" x2="452.45" y2="272.97" stroke="#1a1a1a" stroke-width="1.2"/>
<rect x="446.70" y="275.09" width="7.50" height="9.16" fill="#2d4a80"/>
<line x1="473.45" y1="277.49" x2="473.45" y2="278.03" stroke="#1a1a1a" stroke-width="1.3"/>
<line x1="471.45" y1="277.99" x2="475.45" y2="277.99" stroke="#1a1a1a" stroke-width="1.2"/>
<rect x="469.70" y="278.03" width="7.50" height="6.22" fill="#2d4a80"/>
<line x1="496.45" y1="278.36" x2="496.45" y2="278.80" stroke="#1a1a1a" stroke-width="1.3"/>
<line x1="494.45" y1="278.86" x2="498.45" y2="278.86" stroke="#1a1a1a" stroke-width="1.2"/>
<rect x="492.70" y="278.80" width="7.50" height="5.45" fill="#2d4a80"/>
<line x1="411.95" y1="272.69" x2="411.95" y2="276.29" stroke="#1a1a1a" stroke-width="1.3"/>
<line x1="409.95" y1="273.19" x2="413.95" y2="273.19" stroke="#1a1a1a" stroke-width="1.2"/>
<rect x="408.20" y="276.29" width="7.50" height="7.96" fill="#a8032c"/>
<line x1="434.95" y1="252.08" x2="434.95" y2="255.89" stroke="#1a1a1a" stroke-width="1.3"/>
<line x1="432.95" y1="252.58" x2="436.95" y2="252.58" stroke="#1a1a1a" stroke-width="1.2"/>
<rect x="431.20" y="255.89" width="7.50" height="28.36" fill="#a8032c"/>
<line x1="457.95" y1="281.20" x2="457.95" y2="281.74" stroke="#1a1a1a" stroke-width="1.3"/>
<line x1="455.95" y1="281.70" x2="459.95" y2="281.70" stroke="#1a1a1a" stroke-width="1.2"/>
<rect x="454.20" y="281.74" width="7.50" height="2.51" fill="#a8032c"/>
<line x1="480.95" y1="282.07" x2="480.95" y2="282.51" stroke="#1a1a1a" stroke-width="1.3"/>
<line x1="478.95" y1="282.57" x2="482.95" y2="282.57" stroke="#1a1a1a" stroke-width="1.2"/>
<rect x="477.20" y="282.51" width="7.50" height="1.74" fill="#a8032c"/>
<line x1="503.95" y1="280.54" x2="503.95" y2="281.74" stroke="#1a1a1a" stroke-width="1.3"/>
<line x1="501.95" y1="281.04" x2="505.95" y2="281.04" stroke="#1a1a1a" stroke-width="1.2"/>
<rect x="500.20" y="281.74" width="7.50" height="2.51" fill="#a8032c"/>
<line x1="396.15" y1="284.25" x2="512.00" y2="284.25" stroke="#3c3c3c" stroke-width="1.3"/>
<line x1="408.20" y1="284.25" x2="408.20" y2="286.45" stroke="#3c3c3c" stroke-width="1.1"/>
<text x="408.20" y="299.45" font-size="9.2" text-anchor="middle" textLength="4.70" lengthAdjust="spacingAndGlyphs" fill="#1a1a1a">0</text>
<line x1="431.20" y1="284.25" x2="431.20" y2="286.45" stroke="#3c3c3c" stroke-width="1.1"/>
<text x="431.20" y="299.45" font-size="9.2" text-anchor="middle" textLength="4.70" lengthAdjust="spacingAndGlyphs" fill="#1a1a1a">1</text>
<line x1="454.20" y1="284.25" x2="454.20" y2="286.45" stroke="#3c3c3c" stroke-width="1.1"/>
<text x="454.20" y="299.45" font-size="9.2" text-anchor="middle" textLength="4.70" lengthAdjust="spacingAndGlyphs" fill="#1a1a1a">3</text>
<line x1="477.20" y1="284.25" x2="477.20" y2="286.45" stroke="#3c3c3c" stroke-width="1.1"/>
<text x="477.20" y="299.45" font-size="9.2" text-anchor="middle" textLength="4.70" lengthAdjust="spacingAndGlyphs" fill="#1a1a1a">5</text>
<line x1="500.20" y1="284.25" x2="500.20" y2="286.45" stroke="#3c3c3c" stroke-width="1.1"/>
<text x="500.20" y="299.45" font-size="9.2" text-anchor="middle" textLength="4.70" lengthAdjust="spacingAndGlyphs" fill="#1a1a1a">7</text>
<text x="412.00" y="313.40" font-size="10.6" textLength="85.00" lengthAdjust="spacingAndGlyphs" fill="#1a1a1a" stroke="#1a1a1a" stroke-width="0.22">Days after LPS injection</text>
<text transform="translate(374.70,277.70) rotate(-90)" font-size="11.2" fill="#1a1a1a" stroke="#1a1a1a" stroke-width="0.22"><tspan textLength="68.16" lengthAdjust="spacingAndGlyphs">HSC frequency (10</tspan><tspan font-size="6.7" dy="-4.48" textLength="6.23" lengthAdjust="spacingAndGlyphs">-5</tspan><tspan dy="4.48" textLength="3.51" lengthAdjust="spacingAndGlyphs">)</tspan></text>
<line x1="463.80" y1="198.00" x2="477.50" y2="198.00" stroke="#2d4a80" stroke-width="2.6"/>
<line x1="463.80" y1="211.20" x2="477.50" y2="211.20" stroke="#a8032c" stroke-width="2.6"/>
<text x="481.80" y="201.30" font-size="9.0" textLength="11.80" lengthAdjust="spacingAndGlyphs" fill="#1a1a1a">WT</text>
<text x="481.30" y="214.50" font-size="9.0" font-style="italic" fill="#1a1a1a"><tspan textLength="25.36" lengthAdjust="spacingAndGlyphs">IL27Ra</tspan><tspan font-size="5.6" dy="-3.6" textLength="6.34" lengthAdjust="spacingAndGlyphs">-/-</tspan></text>
<text x="407.00" y="206.10" font-size="9.6" textLength="36.00" lengthAdjust="spacingAndGlyphs" fill="#1a1a1a">p=0.0035</text>
<text x="441.30" y="263.60" font-size="9.6" textLength="36.20" lengthAdjust="spacingAndGlyphs" fill="#1a1a1a">p=0.0449</text>
<text x="456.30" y="274.30" font-size="9.6" textLength="36.20" lengthAdjust="spacingAndGlyphs" fill="#1a1a1a">p=0.0002</text>
<text x="7.65" y="343.60" font-size="12.8" font-weight="bold" textLength="10.49" lengthAdjust="spacingAndGlyphs" fill="#000">G</text>
<line x1="49.75" y1="362.50" x2="49.75" y2="452.10" stroke="#3c3c3c" stroke-width="1.3"/>
<line x1="46.75" y1="451.50" x2="49.75" y2="451.50" stroke="#3c3c3c" stroke-width="1.2"/>
<text x="43.20" y="454.75" font-size="9.2" text-anchor="end" textLength="4.65" lengthAdjust="spacingAndGlyphs" fill="#1a1a1a">0</text>
<line x1="46.75" y1="422.42" x2="49.75" y2="422.42" stroke="#3c3c3c" stroke-width="1.2"/>
<text x="43.20" y="425.67" font-size="9.2" text-anchor="end" textLength="9.30" lengthAdjust="spacingAndGlyphs" fill="#1a1a1a">20</text>
<line x1="46.75" y1="393.34" x2="49.75" y2="393.34" stroke="#3c3c3c" stroke-width="1.2"/>
<text x="43.20" y="396.59" font-size="9.2" text-anchor="end" textLength="9.30" lengthAdjust="spacingAndGlyphs" fill="#1a1a1a">40</text>
<line x1="46.75" y1="364.26" x2="49.75" y2="364.26" stroke="#3c3c3c" stroke-width="1.2"/>
<text x="43.20" y="367.51" font-size="9.2" text-anchor="end" textLength="9.30" lengthAdjust="spacingAndGlyphs" fill="#1a1a1a">60</text>
<line x1="49.15" y1="451.50" x2="180.00" y2="451.50" stroke="#3c3c3c" stroke-width="1.3"/>
<line x1="62.50" y1="451.50" x2="62.50" y2="453.70" stroke="#3c3c3c" stroke-width="1.1"/>
<text x="62.50" y="465.65" font-size="9.2" text-anchor="middle" textLength="4.70" lengthAdjust="spacingAndGlyphs" fill="#1a1a1a">0</text>
<line x1="88.75" y1="451.50" x2="88.75" y2="453.70" stroke="#3c3c3c" stroke-width="1.1"/>
<text x="88.75" y="465.65" font-size="9.2" text-anchor="middle" textLength="4.70" lengthAdjust="spacingAndGlyphs" fill="#1a1a1a">1</text>
<line x1="115.00" y1="451.50" x2="115.00" y2="453.70" stroke="#3c3c3c" stroke-width="1.1"/>
<text x="115.00" y="465.65" font-size="9.2" text-anchor="middle" textLength="4.70" lengthAdjust="spacingAndGlyphs" fill="#1a1a1a">3</text>
<line x1="140.75" y1="451.50" x2="140.75" y2="453.70" stroke="#3c3c3c" stroke-width="1.1"/>
<text x="140.75" y="465.65" font-size="9.2" text-anchor="middle" textLength="4.70" lengthAdjust="spacingAndGlyphs" fill="#1a1a1a">5</text>
<line x1="166.75" y1="451.50" x2="166.75" y2="453.70" stroke="#3c3c3c" stroke-width="1.1"/>
<text x="166.75" y="465.65" font-size="9.2" text-anchor="middle" textLength="4.70" lengthAdjust="spacingAndGlyphs" fill="#1a1a1a">7</text>
<text x="72.20" y="481.10" font-size="10.6" textLength="85.50" lengthAdjust="spacingAndGlyphs" fill="#1a1a1a" stroke="#1a1a1a" stroke-width="0.22">Days after LPS injection</text>
<text transform="translate(26.90,426.60) rotate(-90)" font-size="11.2" textLength="40.30" lengthAdjust="spacingAndGlyphs" fill="#1a1a1a" stroke="#1a1a1a" stroke-width="0.22">Percentage</text>
<polyline points="62.50,422.42 88.75,443.07 115.00,426.78 140.75,426.35 166.75,417.33" fill="none" stroke="#2d4a80" stroke-width="1.5"/>
<polyline points="62.50,420.24 88.75,378.80 115.00,432.16 140.75,441.32 166.75,437.25" fill="none" stroke="#a8032c" stroke-width="1.5"/>
<line x1="62.50" y1="418.35" x2="62.50" y2="426.49" stroke="#2d4a80" stroke-width="1.1"/>
<line x1="60.70" y1="418.35" x2="64.30" y2="418.35" stroke="#2d4a80" stroke-width="1.1"/>
<line x1="60.70" y1="426.49" x2="64.30" y2="426.49" stroke="#2d4a80" stroke-width="1.1"/>
<path d="M60.10,424.22 L64.90,424.22 L62.50,420.02 z" fill="#2d4a80"/>
<line x1="88.75" y1="441.61" x2="88.75" y2="444.52" stroke="#2d4a80" stroke-width="1.1"/>
<line x1="86.95" y1="441.61" x2="90.55" y2="441.61" stroke="#2d4a80" stroke-width="1.1"/>
<line x1="86.95" y1="444.52" x2="90.55" y2="444.52" stroke="#2d4a80" stroke-width="1.1"/>
<path d="M86.35,444.87 L91.15,444.87 L88.75,440.67 z" fill="#2d4a80"/>
<line x1="115.00" y1="423.87" x2="115.00" y2="429.69" stroke="#2d4a80" stroke-width="1.1"/>
<line x1="113.20" y1="423.87" x2="116.80" y2="423.87" stroke="#2d4a80" stroke-width="1.1"/>
<line x1="113.20" y1="429.69" x2="116.80" y2="429.69" stroke="#2d4a80" stroke-width="1.1"/>
<path d="M112.60,428.58 L117.40,428.58 L115.00,424.38 z" fill="#2d4a80"/>
<line x1="140.75" y1="424.89" x2="140.75" y2="427.80" stroke="#2d4a80" stroke-width="1.1"/>
<line x1="138.95" y1="424.89" x2="142.55" y2="424.89" stroke="#2d4a80" stroke-width="1.1"/>
<line x1="138.95" y1="427.80" x2="142.55" y2="427.80" stroke="#2d4a80" stroke-width="1.1"/>
<path d="M138.35,428.15 L143.15,428.15 L140.75,423.95 z" fill="#2d4a80"/>
<line x1="166.75" y1="412.68" x2="166.75" y2="421.98" stroke="#2d4a80" stroke-width="1.1"/>
<line x1="164.95" y1="412.68" x2="168.55" y2="412.68" stroke="#2d4a80" stroke-width="1.1"/>
<line x1="164.95" y1="421.98" x2="168.55" y2="421.98" stroke="#2d4a80" stroke-width="1.1"/>
<path d="M164.35,419.13 L169.15,419.13 L166.75,414.93 z" fill="#2d4a80"/>
<line x1="62.50" y1="416.60" x2="62.50" y2="423.87" stroke="#a8032c" stroke-width="1.1"/>
<line x1="60.70" y1="416.60" x2="64.30" y2="416.60" stroke="#a8032c" stroke-width="1.1"/>
<line x1="60.70" y1="423.87" x2="64.30" y2="423.87" stroke="#a8032c" stroke-width="1.1"/>
<circle cx="62.50" cy="420.24" r="2.3" fill="#a8032c"/>
<line x1="88.75" y1="376.62" x2="88.75" y2="380.98" stroke="#a8032c" stroke-width="1.1"/>
<line x1="86.95" y1="376.62" x2="90.55" y2="376.62" stroke="#a8032c" stroke-width="1.1"/>
<line x1="86.95" y1="380.98" x2="90.55" y2="380.98" stroke="#a8032c" stroke-width="1.1"/>
<circle cx="88.75" cy="378.80" r="2.3" fill="#a8032c"/>
<line x1="115.00" y1="426.64" x2="115.00" y2="437.69" stroke="#a8032c" stroke-width="1.1"/>
<line x1="113.20" y1="426.64" x2="116.80" y2="426.64" stroke="#a8032c" stroke-width="1.1"/>
<line x1="113.20" y1="437.69" x2="116.80" y2="437.69" stroke="#a8032c" stroke-width="1.1"/>
<circle cx="115.00" cy="432.16" r="2.3" fill="#a8032c"/>
<line x1="140.75" y1="440.45" x2="140.75" y2="442.19" stroke="#a8032c" stroke-width="1.1"/>
<line x1="138.95" y1="440.45" x2="142.55" y2="440.45" stroke="#a8032c" stroke-width="1.1"/>
<line x1="138.95" y1="442.19" x2="142.55" y2="442.19" stroke="#a8032c" stroke-width="1.1"/>
<circle cx="140.75" cy="441.32" r="2.3" fill="#a8032c"/>
<line x1="166.75" y1="432.89" x2="166.75" y2="441.61" stroke="#a8032c" stroke-width="1.1"/>
<line x1="164.95" y1="432.89" x2="168.55" y2="432.89" stroke="#a8032c" stroke-width="1.1"/>
<line x1="164.95" y1="441.61" x2="168.55" y2="441.61" stroke="#a8032c" stroke-width="1.1"/>
<circle cx="166.75" cy="437.25" r="2.3" fill="#a8032c"/>
<path d="M61.3,376.3 L61.3,369.5 L88.0,369.5 L88.0,372.5" fill="none" stroke="#1a1a1a" stroke-width="1.2"/>
<text x="57.00" y="364.30" font-size="9.6" textLength="36.00" lengthAdjust="spacingAndGlyphs" fill="#1a1a1a">p=0.0008</text>
<path d="M66.3,424.5 L66.3,419.3 L87.5,419.3 L87.5,424.5" fill="none" stroke="#1a1a1a" stroke-width="1.2"/>
<text x="68.00" y="416.60" font-size="9.6" textLength="35.30" lengthAdjust="spacingAndGlyphs" fill="#1a1a1a">p=0.0156</text>
<line x1="115.00" y1="369.30" x2="130.00" y2="369.30" stroke="#a8032c" stroke-width="1.5"/>
<circle cx="122.5" cy="369.3" r="2.3" fill="#a8032c"/>
<line x1="115.00" y1="382.20" x2="130.00" y2="382.20" stroke="#2d4a80" stroke-width="1.5"/>
<path d="M120.1,384.0 L124.9,384.0 L122.5,379.8 z" fill="#2d4a80"/>
<text x="133" y="372.5" font-size="8.6" fill="#1a1a1a"><tspan textLength="25" lengthAdjust="spacingAndGlyphs">IL27Ra</tspan><tspan font-size="5.5" dy="-3.4">+</tspan><tspan dy="3.4" dx="2.4" textLength="17.6" lengthAdjust="spacingAndGlyphs">HSC</tspan></text>
<text x="133" y="385.4" font-size="8.6" fill="#1a1a1a"><tspan textLength="25" lengthAdjust="spacingAndGlyphs">IL27Ra</tspan><tspan font-size="5.5" dy="-3.4">-</tspan><tspan dy="3.4" dx="2.8" textLength="17.6" lengthAdjust="spacingAndGlyphs">HSC</tspan></text>
<text x="197.24" y="343.60" font-size="12.8" font-weight="bold" textLength="10.54" lengthAdjust="spacingAndGlyphs" fill="#000">H</text>
<text x="215.00" y="354.60" font-size="9.0" textLength="93.70" lengthAdjust="spacingAndGlyphs" fill="#1a1a1a">Days after LPS injection</text>
<line x1="210.00" y1="359.50" x2="314.30" y2="359.50" stroke="#333" stroke-width="1.1"/>
<text x="218.00" y="370.80" font-size="8.6" text-anchor="middle" fill="#1a1a1a">0</text>
<text x="240.00" y="370.80" font-size="8.6" text-anchor="middle" fill="#1a1a1a">1</text>
<text x="261.80" y="370.80" font-size="8.6" text-anchor="middle" fill="#1a1a1a">3</text>
<text x="285.00" y="370.80" font-size="8.6" text-anchor="middle" fill="#1a1a1a">5</text>
<text x="307.50" y="370.80" font-size="8.6" text-anchor="middle" fill="#1a1a1a">7</text>
<defs>
<filter id="bl2" x="-50%" y="-100%" width="200%" height="300%"><feGaussianBlur stdDeviation="0.2"/></filter>
<filter id="bl3" x="-50%" y="-100%" width="200%" height="300%"><feGaussianBlur stdDeviation="0.3"/></filter>
<filter id="bl4" x="-50%" y="-100%" width="200%" height="300%"><feGaussianBlur stdDeviation="0.4"/></filter>
<filter id="bl5" x="-50%" y="-100%" width="200%" height="300%"><feGaussianBlur stdDeviation="0.5"/></filter>
<filter id="bl6" x="-50%" y="-100%" width="200%" height="300%"><feGaussianBlur stdDeviation="0.6"/></filter>
<filter id="bl7" x="-50%" y="-100%" width="200%" height="300%"><feGaussianBlur stdDeviation="0.7"/></filter>
<filter id="bl8" x="-50%" y="-100%" width="200%" height="300%"><feGaussianBlur stdDeviation="0.8"/></filter>
<filter id="bl9" x="-50%" y="-100%" width="200%" height="300%"><feGaussianBlur stdDeviation="0.9"/></filter>
<filter id="bl10" x="-50%" y="-100%" width="200%" height="300%"><feGaussianBlur stdDeviation="1.0"/></filter>
<filter id="bl11" x="-50%" y="-100%" width="200%" height="300%"><feGaussianBlur stdDeviation="1.1"/></filter>
<filter id="bl12" x="-50%" y="-100%" width="200%" height="300%"><feGaussianBlur stdDeviation="1.2"/></filter>
<filter id="bl13" x="-50%" y="-100%" width="200%" height="300%"><feGaussianBlur stdDeviation="1.3"/></filter>
<filter id="bl14" x="-50%" y="-100%" width="200%" height="300%"><feGaussianBlur stdDeviation="1.4"/></filter>
<filter id="bl15" x="-50%" y="-100%" width="200%" height="300%"><feGaussianBlur stdDeviation="1.5"/></filter>
<filter id="bl16" x="-50%" y="-100%" width="200%" height="300%"><feGaussianBlur stdDeviation="1.6"/></filter>
<filter id="bl17" x="-50%" y="-100%" width="200%" height="300%"><feGaussianBlur stdDeviation="1.7"/></filter>
<filter id="bl18" x="-50%" y="-100%" width="200%" height="300%"><feGaussianBlur stdDeviation="1.8"/></filter>
<filter id="bl19" x="-50%" y="-100%" width="200%" height="300%"><feGaussianBlur stdDeviation="1.9"/></filter>
<filter id="bl20" x="-50%" y="-100%" width="200%" height="300%"><feGaussianBlur stdDeviation="2.0"/></filter>
<filter id="bl21" x="-50%" y="-100%" width="200%" height="300%"><feGaussianBlur stdDeviation="2.1"/></filter>
<filter id="bl22" x="-50%" y="-100%" width="200%" height="300%"><feGaussianBlur stdDeviation="2.2"/></filter>
<filter id="bl23" x="-50%" y="-100%" width="200%" height="300%"><feGaussianBlur stdDeviation="2.3"/></filter>
<filter id="bl24" x="-50%" y="-100%" width="200%" height="300%"><feGaussianBlur stdDeviation="2.4"/></filter>
<filter id="bl25" x="-50%" y="-100%" width="200%" height="300%"><feGaussianBlur stdDeviation="2.5"/></filter>
<filter id="bl26" x="-50%" y="-100%" width="200%" height="300%"><feGaussianBlur stdDeviation="2.6"/></filter>
<filter id="bl27" x="-50%" y="-100%" width="200%" height="300%"><feGaussianBlur stdDeviation="2.7"/></filter>
<filter id="bl28" x="-50%" y="-100%" width="200%" height="300%"><feGaussianBlur stdDeviation="2.8"/></filter>
<filter id="bl29" x="-50%" y="-100%" width="200%" height="300%"><feGaussianBlur stdDeviation="2.9"/></filter>
<filter id="bl30" x="-50%" y="-100%" width="200%" height="300%"><feGaussianBlur stdDeviation="3.0"/></filter>
<filter id="bl31" x="-50%" y="-100%" width="200%" height="300%"><feGaussianBlur stdDeviation="3.1"/></filter>
<filter id="bl32" x="-50%" y="-100%" width="200%" height="300%"><feGaussianBlur stdDeviation="3.2"/></filter>
<filter id="bl33" x="-50%" y="-100%" width="200%" height="300%"><feGaussianBlur stdDeviation="3.3"/></filter>
<filter id="bl34" x="-50%" y="-100%" width="200%" height="300%"><feGaussianBlur stdDeviation="3.4"/></filter>
<filter id="bl35" x="-50%" y="-100%" width="200%" height="300%"><feGaussianBlur stdDeviation="3.5"/></filter>
<filter id="bl36" x="-50%" y="-100%" width="200%" height="300%"><feGaussianBlur stdDeviation="3.6"/></filter>
<filter id="bl37" x="-50%" y="-100%" width="200%" height="300%"><feGaussianBlur stdDeviation="3.7"/></filter>
<filter id="bl38" x="-50%" y="-100%" width="200%" height="300%"><feGaussianBlur stdDeviation="3.8"/></filter>
<filter id="bl39" x="-50%" y="-100%" width="200%" height="300%"><feGaussianBlur stdDeviation="3.9"/></filter>
<filter id="bl40" x="-50%" y="-100%" width="200%" height="300%"><feGaussianBlur stdDeviation="4.0"/></filter>
<linearGradient id="b1bg" x1="0" y1="0" x2="1" y2="0"><stop offset="0" stop-color="#e6e6e6"/><stop offset="0.5" stop-color="#dcdcdc"/><stop offset="0.8" stop-color="#cfcfcf"/><stop offset="1" stop-color="#bdbdbd"/></linearGradient>
<linearGradient id="b3bg" x1="0" y1="0" x2="0" y2="1"><stop offset="0" stop-color="#cfcfcf"/><stop offset="1" stop-color="#e2e2e2"/></linearGradient>
<clipPath id="bc0"><rect x="206.8" y="376.1" width="111.09999999999997" height="27.0"/></clipPath>
<clipPath id="bc1"><rect x="206.8" y="406.0" width="111.09999999999997" height="26.80000000000001"/></clipPath>
<clipPath id="bc2"><rect x="206.8" y="436.1" width="111.09999999999997" height="27.19999999999999"/></clipPath>
<clipPath id="bc3"><rect x="206.8" y="466.4" width="111.09999999999997" height="27.400000000000034"/></clipPath>
</defs>
<g clip-path="url(#bc0)">
<rect x="206.8" y="376.1" width="111.09999999999997" height="27.0" fill="url(#b1bg)"/>
<rect x="295.00" y="375.00" width="25.00" height="18.00" rx="9.00" ry="9.00" fill="#7a7a7a" fill-opacity="0.7" filter="url(#bl25)"/>
<rect x="252.00" y="377.00" width="20.00" height="18.00" rx="9.00" ry="9.00" fill="#b0b0b0" fill-opacity="0.45" filter="url(#bl25)"/>
<rect x="276.00" y="377.00" width="18.00" height="18.00" rx="9.00" ry="9.00" fill="#b8b8b8" fill-opacity="0.4" filter="url(#bl25)"/>
<rect x="231.6" y="376.5" width="16" height="18" rx="1.5" fill="#a2a2a2" fill-opacity="0.85" filter="url(#bl8)"/>
<rect x="231.8" y="377" width="1.8" height="16" fill="#5a5a5a" fill-opacity="0.7" filter="url(#bl6)"/>
<rect x="245.8" y="377" width="1.8" height="16" fill="#3a3a3a" fill-opacity="0.8" filter="url(#bl6)"/>
<rect x="234" y="380" width="4" height="8" fill="#707070" fill-opacity="0.5" filter="url(#bl12)"/>
<rect x="209.00" y="394.00" width="17.00" height="3.00" rx="1.50" ry="1.50" fill="#a8a8a8" fill-opacity="0.7" filter="url(#bl10)"/>
<rect x="253.00" y="394.00" width="17.00" height="3.00" rx="1.50" ry="1.50" fill="#b0b0b0" fill-opacity="0.6" filter="url(#bl10)"/>
<rect x="276.00" y="394.00" width="16.00" height="3.00" rx="1.50" ry="1.50" fill="#b8b8b8" fill-opacity="0.5" filter="url(#bl10)"/>
<rect x="298.00" y="393.50" width="18.00" height="3.00" rx="1.50" ry="1.50" fill="#a8a8a8" fill-opacity="0.6" filter="url(#bl10)"/>
<g filter="url(#bl6)" fill="#000" fill-opacity="1.0"><ellipse cx="235.60" cy="395.30" rx="4.60" ry="3.10"/><ellipse cx="243.70" cy="395.30" rx="4.60" ry="3.10"/><rect x="235.60" y="393.00" width="8.10" height="4.60"/></g>
</g>
<g clip-path="url(#bc1)">
<rect x="206.8" y="406.0" width="111.09999999999997" height="26.80000000000001" fill="#e9e9e9"/>
<rect x="208.50" y="419.50" width="13.50" height="2.60" rx="1.30" ry="1.30" fill="#909090" fill-opacity="0.8" filter="url(#bl8)"/>
<g filter="url(#bl5)" fill="#000" fill-opacity="1.0"><ellipse cx="234.60" cy="420.90" rx="4.60" ry="2.50"/><ellipse cx="243.40" cy="420.90" rx="4.60" ry="2.50"/><rect x="234.60" y="418.90" width="8.80" height="4.00"/></g>
<rect x="254.00" y="419.80" width="16.00" height="2.80" rx="1.40" ry="1.40" fill="#707070" fill-opacity="0.85" filter="url(#bl8)"/>
<rect x="276.00" y="419.30" width="15.50" height="2.60" rx="1.30" ry="1.30" fill="#707070" fill-opacity="0.8" filter="url(#bl8)"/>
<rect x="298.00" y="418.90" width="18.00" height="3.00" rx="1.50" ry="1.50" fill="#505050" fill-opacity="0.85" filter="url(#bl8)"/>
<circle cx="216.5" cy="418.6" r="0.7" fill="#222"/>
</g>
<g clip-path="url(#bc2)">
<rect x="206.8" y="436.1" width="111.09999999999997" height="27.19999999999999" fill="url(#b3bg)"/>
<rect x="208.00" y="439.50" width="18.00" height="20.00" rx="9.00" ry="9.00" fill="#707070" fill-opacity="0.75" filter="url(#bl20)"/>
<rect x="213.00" y="445.50" width="9.00" height="7.00" rx="3.50" ry="3.50" fill="#c8c8c8" fill-opacity="0.6" filter="url(#bl15)"/>
<rect x="229.50" y="436.50" width="19.00" height="24.00" rx="9.50" ry="9.50" fill="#303030" fill-opacity="0.85" filter="url(#bl20)"/>
<rect x="231.00" y="439.50" width="16.00" height="6.00" rx="3.00" ry="3.00" fill="#1a1a1a" fill-opacity="0.7" filter="url(#bl15)"/>
<rect x="231.00" y="452.00" width="16.00" height="7.00" rx="3.50" ry="3.50" fill="#1a1a1a" fill-opacity="0.75" filter="url(#bl15)"/>
<rect x="252.00" y="443.00" width="19.00" height="18.00" rx="9.00" ry="9.00" fill="#7a7a7a" fill-opacity="0.6" filter="url(#bl20)"/>
<rect x="252.50" y="443.25" width="18.00" height="5.50" rx="2.75" ry="2.75" fill="#000" fill-opacity="1.0" filter="url(#bl10)"/>
<rect x="275.00" y="442.00" width="17.50" height="18.00" rx="8.75" ry="8.75" fill="#7a7a7a" fill-opacity="0.7" filter="url(#bl20)"/>
<rect x="276.00" y="443.25" width="16.00" height="4.50" rx="2.25" ry="2.25" fill="#4a4a4a" fill-opacity="0.85" filter="url(#bl12)"/>
<rect x="297.50" y="442.00" width="18.50" height="18.00" rx="9.00" ry="9.00" fill="#7a7a7a" fill-opacity="0.7" filter="url(#bl20)"/>
<rect x="298.00" y="443.25" width="18.00" height="4.50" rx="2.25" ry="2.25" fill="#4a4a4a" fill-opacity="0.85" filter="url(#bl12)"/>
</g>
<g clip-path="url(#bc3)">
<rect x="206.8" y="466.4" width="111.09999999999997" height="27.400000000000034" fill="#e3e3e3"/>
<g filter="url(#bl4)" fill="#000" fill-opacity="1.0"><ellipse cx="214.87" cy="480.70" rx="4.57" ry="2.70"/><ellipse cx="221.73" cy="480.70" rx="4.57" ry="2.70"/><rect x="214.87" y="478.40" width="6.86" height="4.60"/></g>
<g filter="url(#bl4)" fill="#000" fill-opacity="1.0"><ellipse cx="235.40" cy="480.60" rx="4.60" ry="2.30"/><ellipse cx="243.10" cy="480.60" rx="4.60" ry="2.30"/><rect x="235.40" y="478.70" width="7.70" height="3.80"/></g>
<g filter="url(#bl4)" fill="#000" fill-opacity="1.0"><ellipse cx="256.60" cy="481.20" rx="4.60" ry="3.20"/><ellipse cx="265.80" cy="481.20" rx="4.60" ry="3.20"/><rect x="256.60" y="478.50" width="9.20" height="5.40"/></g>
<g filter="url(#bl4)" fill="#000" fill-opacity="1.0" transform="rotate(-5.00 283.65 480.00)"><ellipse cx="278.90" cy="480.00" rx="4.60" ry="3.00"/><ellipse cx="288.40" cy="480.00" rx="4.60" ry="3.00"/><rect x="278.90" y="477.50" width="9.50" height="5.00"/></g>
<g filter="url(#bl4)" fill="#000" fill-opacity="1.0" transform="rotate(-3.00 306.90 479.30)"><ellipse cx="302.10" cy="479.30" rx="4.60" ry="2.90"/><ellipse cx="311.70" cy="479.30" rx="4.60" ry="2.90"/><rect x="302.10" y="476.90" width="9.60" height="4.80"/></g>
</g>
<rect x="207.35" y="376.65" width="110.00" height="25.90" fill="none" stroke="#1a1a1a" stroke-width="1.1"/>
<rect x="207.35" y="406.55" width="110.00" height="25.70" fill="none" stroke="#1a1a1a" stroke-width="1.1"/>
<rect x="207.35" y="436.65" width="110.00" height="26.10" fill="none" stroke="#1a1a1a" stroke-width="1.1"/>
<rect x="207.35" y="466.95" width="110.00" height="26.30" fill="none" stroke="#1a1a1a" stroke-width="1.1"/>
<text x="321.0" y="391.50" font-size="8.6" textLength="26.0" lengthAdjust="spacingAndGlyphs" fill="#1a1a1a">IL27Ra</text>
<text x="321.0" y="424.30" font-size="8.6" textLength="19.0" lengthAdjust="spacingAndGlyphs" fill="#1a1a1a">ETS1</text>
<text x="321.0" y="453.80" font-size="8.6" textLength="37.4" lengthAdjust="spacingAndGlyphs" fill="#1a1a1a">p-ERK1/2</text>
<text x="321.0" y="482.30" font-size="8.6" textLength="20.3" lengthAdjust="spacingAndGlyphs" fill="#1a1a1a">Actin</text>
<text x="7.70" y="522.10" font-size="12.8" font-weight="bold" textLength="4.22" lengthAdjust="spacingAndGlyphs" fill="#000">I</text>
<defs><radialGradient id="cellg" gradientUnits="userSpaceOnUse" cx="152" cy="643" r="104"><stop offset="0" stop-color="#ffff00"/><stop offset="0.2" stop-color="#fff400"/><stop offset="0.48" stop-color="#ffc800"/><stop offset="0.74" stop-color="#ff9000"/><stop offset="0.9" stop-color="#ff6e00"/><stop offset="1" stop-color="#ff5a00"/></radialGradient><radialGradient id="ergr" cx="0.5" cy="0.45" r="0.55"><stop offset="0" stop-color="#ececec"/><stop offset="0.5" stop-color="#c4c4c4"/><stop offset="1" stop-color="#6a6a6a"/></radialGradient><radialGradient id="etgr" cx="0.5" cy="0.5" r="0.55"><stop offset="0" stop-color="#ffffff"/><stop offset="0.5" stop-color="#f0e8dc"/><stop offset="0.8" stop-color="#c2ae94"/><stop offset="1" stop-color="#7e6a56"/></radialGradient><radialGradient id="nfgr" cx="0.5" cy="0.62" r="0.6"><stop offset="0" stop-color="#f2c49a"/><stop offset="0.45" stop-color="#dc9868"/><stop offset="0.8" stop-color="#b05a34"/><stop offset="1" stop-color="#7e2010"/></radialGradient><marker id="arr" viewBox="0 0 10 10" refX="8.5" refY="5" markerUnits="userSpaceOnUse" markerWidth="8.6" markerHeight="8.6" orient="auto"><path d="M0,0.6 L10,5 L0,9.4 L2.2,5 z" fill="#000"/></marker><marker id="arr2" viewBox="0 0 10 10" refX="8.5" refY="5" markerUnits="userSpaceOnUse" markerWidth="6.5" markerHeight="6.5" orient="auto"><path d="M0,0.8 L10,5 L0,9.2 L2.2,5 z" fill="#000"/></marker></defs>
<ellipse cx="149.8" cy="637.0" rx="102.6" ry="99.0" fill="url(#cellg)"/>
<path d="M79.62,656.71 L80.33,655.06 L80.96,653.45 L81.60,651.89 L82.27,650.38 L82.97,648.92 L83.70,647.52 L84.47,646.17 L85.26,644.86 L86.09,643.61 L86.95,642.41 L87.85,641.25 L88.78,640.14 L89.75,639.08 L90.75,638.05 L91.80,637.07 L92.88,636.13 L94.00,635.23 L95.17,634.37 L96.38,633.55 L97.63,632.76 L98.93,632.00 L100.28,631.28 L101.67,630.58 L103.07,629.81 L102.53,628.19 L100.88,628.52 L99.31,629.03 L97.78,629.61 L96.30,630.27 L94.87,631.00 L93.48,631.79 L92.14,632.65 L90.85,633.58 L89.62,634.57 L88.43,635.62 L87.30,636.73 L86.22,637.91 L85.20,639.14 L84.23,640.43 L83.32,641.78 L82.47,643.18 L81.68,644.64 L80.95,646.14 L80.27,647.71 L79.66,649.32 L79.11,650.98 L78.62,652.69 L78.22,654.45 L77.98,656.29 Z" fill="#a3a6b4" stroke="#2e2e38" stroke-width="0.9" stroke-linejoin="round"/>
<path d="M110.74,626.18 L112.33,625.79 L113.85,625.34 L115.34,624.91 L116.80,624.53 L118.25,624.18 L119.66,623.87 L121.06,623.61 L122.44,623.38 L123.79,623.20 L125.13,623.06 L126.45,622.96 L127.75,622.90 L129.04,622.88 L130.31,622.90 L131.57,622.96 L132.82,623.06 L134.06,623.20 L135.28,623.38 L136.51,623.60 L137.72,623.86 L138.93,624.16 L140.15,624.50 L141.36,624.86 L142.63,625.17 L143.37,623.63 L142.24,622.84 L141.03,622.21 L139.79,621.65 L138.52,621.16 L137.23,620.73 L135.92,620.37 L134.58,620.07 L133.23,619.83 L131.85,619.65 L130.47,619.54 L129.06,619.49 L127.65,619.50 L126.22,619.58 L124.78,619.71 L123.33,619.91 L121.87,620.17 L120.41,620.49 L118.94,620.88 L117.46,621.32 L115.97,621.83 L114.49,622.40 L113.00,623.04 L111.51,623.75 L110.06,624.62 Z" fill="#a3a6b4" stroke="#2e2e38" stroke-width="0.9" stroke-linejoin="round"/>
<path d="M149.72,627.74 L151.23,627.81 L152.70,627.82 L154.15,627.86 L155.57,627.95 L156.97,628.08 L158.36,628.26 L159.73,628.49 L161.09,628.78 L162.44,629.11 L163.77,629.49 L165.09,629.92 L166.41,630.41 L167.72,630.95 L169.02,631.54 L170.32,632.18 L171.61,632.88 L172.91,633.63 L174.20,634.44 L175.49,635.31 L176.78,636.23 L178.07,637.21 L179.37,638.24 L180.69,639.32 L182.09,640.39 L183.31,639.21 L182.23,637.76 L181.04,636.44 L179.82,635.21 L178.56,634.04 L177.27,632.95 L175.96,631.92 L174.63,630.96 L173.28,630.08 L171.90,629.26 L170.50,628.51 L169.08,627.84 L167.64,627.24 L166.19,626.71 L164.72,626.26 L163.23,625.88 L161.73,625.58 L160.22,625.35 L158.70,625.20 L157.17,625.12 L155.64,625.13 L154.10,625.21 L152.55,625.37 L151.01,625.62 L149.48,626.06 Z" fill="#a3a6b4" stroke="#2e2e38" stroke-width="0.9" stroke-linejoin="round"/>
<path d="M184.91,641.60 L186.42,642.44 L187.91,643.20 L189.35,643.98 L190.74,644.79 L192.09,645.63 L193.39,646.50 L194.64,647.41 L195.85,648.35 L197.01,649.32 L198.13,650.34 L199.21,651.39 L200.25,652.47 L201.24,653.60 L202.20,654.77 L203.12,655.98 L204.01,657.24 L204.86,658.54 L205.67,659.88 L206.44,661.28 L207.19,662.71 L207.90,664.20 L208.58,665.74 L209.24,667.32 L209.98,668.93 L211.62,668.47 L211.34,666.66 L210.89,664.92 L210.37,663.23 L209.77,661.58 L209.11,659.98 L208.38,658.43 L207.60,656.93 L206.75,655.47 L205.84,654.07 L204.87,652.72 L203.84,651.42 L202.75,650.18 L201.61,648.99 L200.41,647.86 L199.15,646.78 L197.84,645.76 L196.48,644.81 L195.06,643.91 L193.59,643.08 L192.08,642.30 L190.51,641.60 L188.90,640.96 L187.23,640.39 L185.49,640.00 Z" fill="#a3a6b4" stroke="#2e2e38" stroke-width="0.9" stroke-linejoin="round"/>
<path d="M211.27,672.43 L211.77,673.86 L212.30,675.22 L212.78,676.57 L213.20,677.91 L213.56,679.25 L213.85,680.58 L214.08,681.92 L214.25,683.25 L214.36,684.59 L214.40,685.94 L214.38,687.30 L214.31,688.66 L214.16,690.04 L213.96,691.44 L213.69,692.85 L213.36,694.27 L212.97,695.72 L212.51,697.19 L211.98,698.67 L211.39,700.18 L210.73,701.71 L210.01,703.27 L209.24,704.86 L208.49,706.54 L209.91,707.46 L211.12,706.00 L212.16,704.47 L213.09,702.92 L213.95,701.37 L214.71,699.82 L215.39,698.26 L215.99,696.71 L216.50,695.15 L216.93,693.59 L217.27,692.03 L217.53,690.48 L217.69,688.94 L217.77,687.40 L217.77,685.86 L217.67,684.34 L217.48,682.84 L217.21,681.34 L216.85,679.87 L216.40,678.41 L215.86,676.98 L215.24,675.57 L214.53,674.18 L213.72,672.84 L212.73,671.57 Z" fill="#a3a6b4" stroke="#2e2e38" stroke-width="0.9" stroke-linejoin="round"/>
<path d="M204.87,712.24 L203.22,713.22 L201.63,714.26 L200.04,715.29 L198.45,716.30 L196.85,717.28 L195.23,718.24 L193.61,719.18 L191.97,720.08 L190.32,720.97 L188.66,721.82 L186.98,722.65 L185.28,723.46 L183.57,724.24 L181.84,725.00 L180.10,725.73 L178.34,726.44 L176.56,727.12 L174.77,727.79 L172.95,728.43 L171.12,729.04 L169.27,729.64 L167.40,730.22 L165.51,730.80 L163.63,731.47 L163.97,733.13 L166.00,732.95 L167.99,732.61 L169.95,732.21 L171.90,731.76 L173.83,731.26 L175.73,730.71 L177.62,730.13 L179.48,729.49 L181.32,728.82 L183.14,728.10 L184.94,727.34 L186.72,726.54 L188.47,725.70 L190.20,724.81 L191.90,723.88 L193.58,722.92 L195.24,721.91 L196.87,720.86 L198.47,719.77 L200.04,718.63 L201.58,717.46 L203.09,716.24 L204.56,714.96 L205.93,713.56 Z" fill="#a3a6b4" stroke="#2e2e38" stroke-width="0.9" stroke-linejoin="round"/>
<path d="M161.74,732.35 L158.78,731.94 L155.86,731.58 L152.97,731.19 L150.12,730.76 L147.31,730.28 L144.53,729.74 L141.79,729.15 L139.08,728.51 L136.41,727.82 L133.77,727.07 L131.16,726.27 L128.58,725.42 L126.03,724.51 L123.51,723.55 L121.03,722.53 L118.57,721.46 L116.13,720.33 L113.73,719.15 L111.35,717.91 L109.00,716.62 L106.67,715.27 L104.35,713.87 L102.06,712.43 L99.71,711.02 L98.69,712.38 L100.78,714.22 L102.98,715.91 L105.24,717.51 L107.54,719.03 L109.89,720.49 L112.28,721.87 L114.72,723.17 L117.19,724.41 L119.70,725.57 L122.25,726.67 L124.84,727.69 L127.47,728.63 L130.14,729.51 L132.84,730.31 L135.57,731.03 L138.34,731.69 L141.14,732.27 L143.98,732.77 L146.85,733.20 L149.75,733.56 L152.68,733.83 L155.64,734.03 L158.64,734.13 L161.66,734.05 Z" fill="#a3a6b4" stroke="#2e2e38" stroke-width="0.9" stroke-linejoin="round"/>
<path d="M95.20,707.10 L93.72,705.23 L92.24,703.43 L90.83,701.65 L89.49,699.87 L88.24,698.08 L87.06,696.30 L85.96,694.50 L84.94,692.71 L84.00,690.90 L83.13,689.09 L82.34,687.27 L81.62,685.44 L80.98,683.59 L80.41,681.74 L79.91,679.87 L79.49,677.98 L79.14,676.08 L78.86,674.16 L78.66,672.22 L78.52,670.25 L78.46,668.27 L78.46,666.25 L78.52,664.21 L78.54,662.13 L76.86,661.87 L76.33,663.97 L76.01,666.08 L75.81,668.19 L75.70,670.29 L75.70,672.38 L75.80,674.45 L75.99,676.52 L76.29,678.57 L76.68,680.61 L77.16,682.63 L77.75,684.63 L78.43,686.61 L79.21,688.58 L80.08,690.51 L81.05,692.43 L82.11,694.32 L83.26,696.18 L84.50,698.02 L85.84,699.82 L87.27,701.60 L88.79,703.35 L90.40,705.07 L92.12,706.74 L94.00,708.30 Z" fill="#a3a6b4" stroke="#2e2e38" stroke-width="0.9" stroke-linejoin="round"/>
<rect x="71.6" y="525.1" width="38.0" height="15.7" fill="#ffbf00"/>
<text x="77.8" y="536.4" font-size="8.3" textLength="23.4" lengthAdjust="spacingAndGlyphs" fill="#1a1a1a">TNF-α</text>
<line x1="98.4" y1="541.5" x2="107.0" y2="561.4" stroke="#000" stroke-width="1.3" marker-end="url(#arr)"/>
<line x1="107.9" y1="575.2" x2="107.9" y2="595.6" stroke="#000" stroke-width="1.3" marker-end="url(#arr)"/>
<line x1="108.0" y1="611.5" x2="108.0" y2="644.6" stroke="#000" stroke-width="1.3" marker-end="url(#arr)"/>
<line x1="78.8" y1="612.7" x2="92.8" y2="656.3" stroke="#000" stroke-width="0.9" marker-end="url(#arr2)"/>
<ellipse cx="108.0" cy="569.3" rx="12.6" ry="5.6" fill="url(#ergr)" stroke="#3a3a3a" stroke-width="0.8"/>
<text x="107.4" y="572.6" font-size="8.6" text-anchor="middle" textLength="15.6" lengthAdjust="spacingAndGlyphs" fill="#111">ERK</text>
<ellipse cx="107.5" cy="602.8" rx="12.4" ry="5.6" fill="url(#etgr)"/>
<text x="107.7" y="605.9" font-size="8.3" text-anchor="middle" textLength="18.5" lengthAdjust="spacingAndGlyphs" fill="#141414">ETS1</text>
<ellipse cx="74.0" cy="598.6" rx="12.5" ry="9.8" fill="url(#nfgr)"/>
<text x="74.5" y="599.0" font-size="7.8" text-anchor="middle" textLength="23.0" lengthAdjust="spacingAndGlyphs" fill="#140804" stroke="#140804" stroke-width="0.15">NF-κB</text>
<text x="74.6" y="605.7" font-size="7.8" text-anchor="middle" textLength="13.5" lengthAdjust="spacingAndGlyphs" fill="#140804" stroke="#140804" stroke-width="0.15">p65</text>
<g>
<line x1="89.50" y1="667.30" x2="89.50" y2="662.70" stroke="#5a4a9a" stroke-width="0.9" stroke-opacity="0.75"/>
<line x1="93.10" y1="669.60" x2="93.10" y2="660.40" stroke="#5a4a9a" stroke-width="0.9" stroke-opacity="0.75"/>
<line x1="96.70" y1="667.06" x2="96.70" y2="662.94" stroke="#5a4a9a" stroke-width="0.9" stroke-opacity="0.75"/>
<line x1="100.30" y1="662.35" x2="100.30" y2="667.65" stroke="#5a4a9a" stroke-width="0.9" stroke-opacity="0.75"/>
<line x1="103.90" y1="660.43" x2="103.90" y2="669.57" stroke="#5a4a9a" stroke-width="0.9" stroke-opacity="0.75"/>
<line x1="107.50" y1="663.32" x2="107.50" y2="666.68" stroke="#5a4a9a" stroke-width="0.9" stroke-opacity="0.75"/>
<line x1="111.10" y1="667.97" x2="111.10" y2="662.03" stroke="#5a4a9a" stroke-width="0.9" stroke-opacity="0.75"/>
<line x1="114.70" y1="669.50" x2="114.70" y2="660.50" stroke="#5a4a9a" stroke-width="0.9" stroke-opacity="0.75"/>
<line x1="118.30" y1="666.29" x2="118.30" y2="663.71" stroke="#5a4a9a" stroke-width="0.9" stroke-opacity="0.75"/>
<line x1="121.90" y1="661.73" x2="121.90" y2="668.27" stroke="#5a4a9a" stroke-width="0.9" stroke-opacity="0.75"/>
<line x1="125.50" y1="660.60" x2="125.50" y2="669.40" stroke="#5a4a9a" stroke-width="0.9" stroke-opacity="0.75"/>
<line x1="132.70" y1="668.55" x2="132.70" y2="661.45" stroke="#5a4a9a" stroke-width="0.9" stroke-opacity="0.75"/>
<line x1="136.30" y1="669.26" x2="136.30" y2="660.74" stroke="#5a4a9a" stroke-width="0.9" stroke-opacity="0.75"/>
<line x1="143.50" y1="661.20" x2="143.50" y2="668.80" stroke="#5a4a9a" stroke-width="0.9" stroke-opacity="0.75"/>
<line x1="147.10" y1="660.92" x2="147.10" y2="669.08" stroke="#5a4a9a" stroke-width="0.9" stroke-opacity="0.75"/>
<line x1="154.30" y1="669.02" x2="154.30" y2="660.98" stroke="#5a4a9a" stroke-width="0.9" stroke-opacity="0.75"/>
<polyline points="88.00,664.66 88.50,663.98 88.99,663.33 89.49,662.72 89.99,662.15 90.48,661.65 90.98,661.22 91.47,660.87 91.97,660.62 92.47,660.46 92.96,660.40 93.46,660.44 93.96,660.59 94.45,660.83 94.95,661.16 95.45,661.58 95.94,662.07 96.44,662.63 96.94,663.23 97.43,663.88 97.93,664.56 98.42,665.24 98.92,665.92 99.42,666.57 99.91,667.19 100.41,667.77 100.91,668.28 101.40,668.72 101.90,669.08 102.40,669.35 102.89,669.52 103.39,669.60 103.89,669.57 104.38,669.44 104.88,669.22 105.38,668.90 105.87,668.49 106.37,668.01 106.86,667.46 107.36,666.86 107.86,666.22 108.35,665.55 108.85,664.87 109.35,664.19 109.84,663.53 110.34,662.90 110.84,662.31 111.33,661.79 111.83,661.34 112.33,660.97 112.82,660.68 113.32,660.50 113.81,660.41 114.31,660.42 114.81,660.53 115.30,660.74 115.80,661.05 116.30,661.44 116.79,661.91 117.29,662.45 117.79,663.05 118.28,663.68 118.78,664.35 119.28,665.03 119.77,665.71 120.27,666.38 120.76,667.01 121.26,667.60 121.76,668.13 122.25,668.60 122.75,668.98 123.25,669.28 123.74,669.48 124.24,669.59 124.74,669.59 125.23,669.49 125.73,669.29 126.22,669.00 126.72,668.62 127.22,668.16 127.71,667.63 128.21,667.05 128.71,666.41 129.20,665.75 129.70,665.07 130.20,664.39 130.69,663.72 131.19,663.08 131.69,662.48 132.18,661.94 132.68,661.47 133.18,661.07 133.67,660.76 134.17,660.54 134.66,660.42 135.16,660.41 135.66,660.49 136.15,660.67 136.65,660.95 137.15,661.31 137.64,661.76 138.14,662.28 138.64,662.86 139.13,663.49 139.63,664.15 140.12,664.83 140.62,665.51 141.12,666.18 141.61,666.82 142.11,667.43 142.61,667.98 143.10,668.47 143.60,668.88 144.10,669.20 144.59,669.43 145.09,669.56 145.59,669.60 146.08,669.53 146.58,669.36 147.07,669.10 147.57,668.75 148.07,668.31 148.56,667.80 149.06,667.23 149.56,666.61 150.05,665.95 150.55,665.28 151.05,664.60 151.54,663.92 152.04,663.27 152.54,662.66 153.03,662.10 153.53,661.60 154.03,661.18 154.52,660.84 155.02,660.60 155.51,660.45 156.01,660.40 156.51,660.45 157.00,660.61 157.50,660.85" fill="none" stroke="#ff7800" stroke-width="1.6"/>
<polyline points="88.00,665.34 88.50,666.02 88.99,666.67 89.49,667.28 89.99,667.85 90.48,668.35 90.98,668.78 91.47,669.13 91.97,669.38 92.47,669.54 92.96,669.60 93.46,669.56 93.96,669.41 94.45,669.17 94.95,668.84 95.45,668.42 95.94,667.93 96.44,667.37 96.94,666.77 97.43,666.12 97.93,665.44 98.42,664.76 98.92,664.08 99.42,663.43 99.91,662.81 100.41,662.23 100.91,661.72 101.40,661.28 101.90,660.92 102.40,660.65 102.89,660.48 103.39,660.40 103.89,660.43 104.38,660.56 104.88,660.78 105.38,661.10 105.87,661.51 106.37,661.99 106.86,662.54 107.36,663.14 107.86,663.78 108.35,664.45 108.85,665.13 109.35,665.81 109.84,666.47 110.34,667.10 110.84,667.69 111.33,668.21 111.83,668.66 112.33,669.03 112.82,669.32 113.32,669.50 113.81,669.59 114.31,669.58 114.81,669.47 115.30,669.26 115.80,668.95 116.30,668.56 116.79,668.09 117.29,667.55 117.79,666.95 118.28,666.32 118.78,665.65 119.28,664.97 119.77,664.29 120.27,663.62 120.76,662.99 121.26,662.40 121.76,661.87 122.25,661.40 122.75,661.02 123.25,660.72 123.74,660.52 124.24,660.41 124.74,660.41 125.23,660.51 125.73,660.71 126.22,661.00 126.72,661.38 127.22,661.84 127.71,662.37 128.21,662.95 128.71,663.59 129.20,664.25 129.70,664.93 130.20,665.61 130.69,666.28 131.19,666.92 131.69,667.52 132.18,668.06 132.68,668.53 133.18,668.93 133.67,669.24 134.17,669.46 134.66,669.58 135.16,669.59 135.66,669.51 136.15,669.33 136.65,669.05 137.15,668.69 137.64,668.24 138.14,667.72 138.64,667.14 139.13,666.51 139.63,665.85 140.12,665.17 140.62,664.49 141.12,663.82 141.61,663.18 142.11,662.57 142.61,662.02 143.10,661.53 143.60,661.12 144.10,660.80 144.59,660.57 145.09,660.44 145.59,660.40 146.08,660.47 146.58,660.64 147.07,660.90 147.57,661.25 148.07,661.69 148.56,662.20 149.06,662.77 149.56,663.39 150.05,664.05 150.55,664.72 151.05,665.40 151.54,666.08 152.04,666.73 152.54,667.34 153.03,667.90 153.53,668.40 154.03,668.82 154.52,669.16 155.02,669.40 155.51,669.55 156.01,669.60 156.51,669.55 157.00,669.39 157.50,669.15" fill="none" stroke="#3fd03f" stroke-width="1.9"/>
</g>
<ellipse cx="98.8" cy="666.7" rx="12.6" ry="9.5" fill="url(#nfgr)"/>
<text x="99.2" y="667.4" font-size="7.8" text-anchor="middle" textLength="23.0" lengthAdjust="spacingAndGlyphs" fill="#140804" stroke="#140804" stroke-width="0.15">NF-κB</text>
<text x="99.2" y="674.2" font-size="7.8" text-anchor="middle" textLength="13.5" lengthAdjust="spacingAndGlyphs" fill="#140804" stroke="#140804" stroke-width="0.15">p65</text>
<ellipse cx="111.0" cy="654.6" rx="12.4" ry="5.0" fill="url(#etgr)"/>
<text x="111.0" y="657.7" font-size="8.3" text-anchor="middle" textLength="18.5" lengthAdjust="spacingAndGlyphs" fill="#141414">ETS1</text>
<text x="131.8" y="683.2" font-size="8.5" textLength="23.5" lengthAdjust="spacingAndGlyphs" fill="#262626">IL27Ra</text>
<polyline points="129.7,657.0 129.7,646.3 187.0,575.2" fill="none" stroke="#000" stroke-width="1.2" marker-end="url(#arr)"/>
<text x="187.8" y="571.9" font-size="8.3" font-weight="bold" textLength="26.2" lengthAdjust="spacingAndGlyphs" fill="#000">IL27Ra</text>
<text x="213.2" y="543.7" font-size="8.0" textLength="17.6" lengthAdjust="spacingAndGlyphs" fill="#262626">IL-27</text>
<rect x="216.0" y="556.0" width="2.2" height="25" fill="#ff1010"/>
<rect x="222.5" y="556.0" width="2.2" height="25" fill="#ff1010"/>
<ellipse cx="216.8" cy="582.0" rx="3.5" ry="4.2" fill="#ff1010"/>
<ellipse cx="223.7" cy="582.0" rx="3.5" ry="4.2" fill="#ff1010"/>
<path d="M212.2,553.6 Q220.4,564.0 228.6,553.6 Q220.4,558.6 212.2,553.6 Z" fill="#ff1010" stroke="#ff1010" stroke-width="1.8" stroke-linejoin="round"/>
<ellipse cx="220.3" cy="551.0" rx="5.6" ry="4.9" fill="#e07a35"/>
<line x1="218.5" y1="592.3" x2="218.5" y2="611.0" stroke="#000" stroke-width="1.3" marker-end="url(#arr)"/>
<text x="198.8" y="641.8" font-size="8.3" font-weight="bold" textLength="40.2" lengthAdjust="spacingAndGlyphs" fill="#000">HSC aging</text>
<text x="128.5" y="704.1" font-size="8.4" font-weight="bold" fill="#000"><tspan textLength="26.5" lengthAdjust="spacingAndGlyphs">IL27Ra</tspan><tspan font-size="6.4" dy="-3.2">+</tspan><tspan dy="3.2" dx="1.6" textLength="20.5" lengthAdjust="spacingAndGlyphs">HSCs</tspan></text>
<text x="114.6" y="713.9" font-size="8.4" font-weight="bold" textLength="80.6" lengthAdjust="spacingAndGlyphs" fill="#000">(Inflammatory HSCs)</text>
<rect x="0" y="0" width="520" height="1.2" fill="#000"/>
<rect x="0" y="0" width="1.3" height="745" fill="#000"/>
<rect x="518.6" y="0" width="1.4" height="745" fill="#000"/>
<rect x="0" y="743.6" width="520" height="1.4" fill="#000"/>
</svg></body></html>
